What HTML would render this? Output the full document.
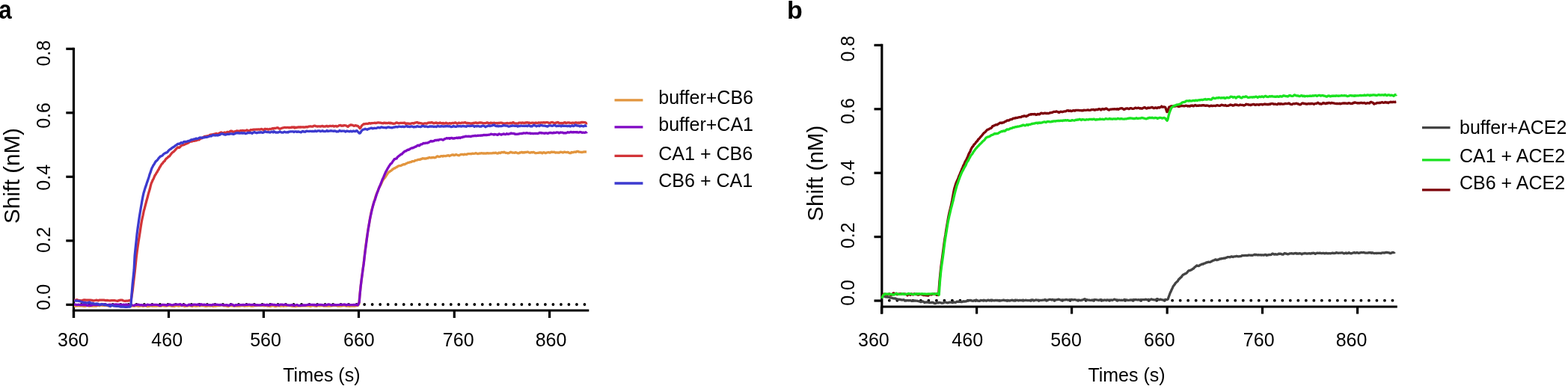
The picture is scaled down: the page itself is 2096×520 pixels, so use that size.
<!DOCTYPE html>
<html><head><meta charset="utf-8"><title>Binding kinetics</title>
<style>html,body{margin:0;padding:0;background:#fff;width:2096px;height:520px;overflow:hidden}</style>
</head><body>
<svg width="2096" height="520" viewBox="0 0 2096 520" style="display:block">
<rect width="2096" height="520" fill="#fff"/>
<line x1="98.5" y1="63.8" x2="98.5" y2="425.0" stroke="#000" stroke-width="3.2"/>
<line x1="88.3" y1="65.3" x2="98.5" y2="65.3" stroke="#000" stroke-width="3.2"/>
<line x1="88.3" y1="150.8" x2="98.5" y2="150.8" stroke="#000" stroke-width="3.2"/>
<line x1="88.3" y1="236.3" x2="98.5" y2="236.3" stroke="#000" stroke-width="3.2"/>
<line x1="88.3" y1="321.8" x2="98.5" y2="321.8" stroke="#000" stroke-width="3.2"/>
<line x1="88.3" y1="407.3" x2="98.5" y2="407.3" stroke="#000" stroke-width="3.2"/>
<line x1="96.9" y1="415.0" x2="787.3" y2="415.0" stroke="#000" stroke-width="3.2"/>
<line x1="98.5" y1="415.0" x2="98.5" y2="425.0" stroke="#000" stroke-width="3.2"/>
<line x1="225.5" y1="415.0" x2="225.5" y2="425.0" stroke="#000" stroke-width="3.2"/>
<line x1="352.4" y1="415.0" x2="352.4" y2="425.0" stroke="#000" stroke-width="3.2"/>
<line x1="479.5" y1="415.0" x2="479.5" y2="425.0" stroke="#000" stroke-width="3.2"/>
<line x1="607.3" y1="415.0" x2="607.3" y2="425.0" stroke="#000" stroke-width="3.2"/>
<line x1="734.6" y1="415.0" x2="734.6" y2="425.0" stroke="#000" stroke-width="3.2"/>
<line x1="1178.8" y1="58.8" x2="1178.8" y2="419.6" stroke="#000" stroke-width="3.2"/>
<line x1="1168.5" y1="60.4" x2="1178.8" y2="60.4" stroke="#000" stroke-width="3.2"/>
<line x1="1168.5" y1="145.8" x2="1178.8" y2="145.8" stroke="#000" stroke-width="3.2"/>
<line x1="1168.5" y1="231.2" x2="1178.8" y2="231.2" stroke="#000" stroke-width="3.2"/>
<line x1="1168.5" y1="316.6" x2="1178.8" y2="316.6" stroke="#000" stroke-width="3.2"/>
<line x1="1168.5" y1="402.0" x2="1178.8" y2="402.0" stroke="#000" stroke-width="3.2"/>
<line x1="1177.2" y1="410.0" x2="1867.8" y2="410.0" stroke="#000" stroke-width="3.2"/>
<line x1="1178.5" y1="410.0" x2="1178.5" y2="419.6" stroke="#000" stroke-width="3.2"/>
<line x1="1305.6" y1="410.0" x2="1305.6" y2="419.6" stroke="#000" stroke-width="3.2"/>
<line x1="1432.6" y1="410.0" x2="1432.6" y2="419.6" stroke="#000" stroke-width="3.2"/>
<line x1="1560.2" y1="410.0" x2="1560.2" y2="419.6" stroke="#000" stroke-width="3.2"/>
<line x1="1687.5" y1="410.0" x2="1687.5" y2="419.6" stroke="#000" stroke-width="3.2"/>
<line x1="1814.6" y1="410.0" x2="1814.6" y2="419.6" stroke="#000" stroke-width="3.2"/>
<circle cx="108.80" cy="407.0" r="1.9" fill="#000"/>
<circle cx="119.31" cy="407.0" r="1.9" fill="#000"/>
<circle cx="129.82" cy="407.0" r="1.9" fill="#000"/>
<circle cx="140.33" cy="407.0" r="1.9" fill="#000"/>
<circle cx="150.84" cy="407.0" r="1.9" fill="#000"/>
<circle cx="161.35" cy="407.0" r="1.9" fill="#000"/>
<circle cx="171.86" cy="407.0" r="1.9" fill="#000"/>
<circle cx="182.37" cy="407.0" r="1.9" fill="#000"/>
<circle cx="192.88" cy="407.0" r="1.9" fill="#000"/>
<circle cx="203.39" cy="407.0" r="1.9" fill="#000"/>
<circle cx="213.90" cy="407.0" r="1.9" fill="#000"/>
<circle cx="224.41" cy="407.0" r="1.9" fill="#000"/>
<circle cx="234.92" cy="407.0" r="1.9" fill="#000"/>
<circle cx="245.43" cy="407.0" r="1.9" fill="#000"/>
<circle cx="255.94" cy="407.0" r="1.9" fill="#000"/>
<circle cx="266.45" cy="407.0" r="1.9" fill="#000"/>
<circle cx="276.96" cy="407.0" r="1.9" fill="#000"/>
<circle cx="287.47" cy="407.0" r="1.9" fill="#000"/>
<circle cx="297.98" cy="407.0" r="1.9" fill="#000"/>
<circle cx="308.49" cy="407.0" r="1.9" fill="#000"/>
<circle cx="319.00" cy="407.0" r="1.9" fill="#000"/>
<circle cx="329.51" cy="407.0" r="1.9" fill="#000"/>
<circle cx="340.02" cy="407.0" r="1.9" fill="#000"/>
<circle cx="350.53" cy="407.0" r="1.9" fill="#000"/>
<circle cx="361.04" cy="407.0" r="1.9" fill="#000"/>
<circle cx="371.55" cy="407.0" r="1.9" fill="#000"/>
<circle cx="382.06" cy="407.0" r="1.9" fill="#000"/>
<circle cx="392.57" cy="407.0" r="1.9" fill="#000"/>
<circle cx="403.08" cy="407.0" r="1.9" fill="#000"/>
<circle cx="413.59" cy="407.0" r="1.9" fill="#000"/>
<circle cx="424.10" cy="407.0" r="1.9" fill="#000"/>
<circle cx="434.61" cy="407.0" r="1.9" fill="#000"/>
<circle cx="445.12" cy="407.0" r="1.9" fill="#000"/>
<circle cx="455.63" cy="407.0" r="1.9" fill="#000"/>
<circle cx="466.14" cy="407.0" r="1.9" fill="#000"/>
<circle cx="476.65" cy="407.0" r="1.9" fill="#000"/>
<circle cx="487.16" cy="407.0" r="1.9" fill="#000"/>
<circle cx="497.67" cy="407.0" r="1.9" fill="#000"/>
<circle cx="508.18" cy="407.0" r="1.9" fill="#000"/>
<circle cx="518.69" cy="407.0" r="1.9" fill="#000"/>
<circle cx="529.20" cy="407.0" r="1.9" fill="#000"/>
<circle cx="539.71" cy="407.0" r="1.9" fill="#000"/>
<circle cx="550.22" cy="407.0" r="1.9" fill="#000"/>
<circle cx="560.73" cy="407.0" r="1.9" fill="#000"/>
<circle cx="571.24" cy="407.0" r="1.9" fill="#000"/>
<circle cx="581.75" cy="407.0" r="1.9" fill="#000"/>
<circle cx="592.26" cy="407.0" r="1.9" fill="#000"/>
<circle cx="602.77" cy="407.0" r="1.9" fill="#000"/>
<circle cx="613.28" cy="407.0" r="1.9" fill="#000"/>
<circle cx="623.79" cy="407.0" r="1.9" fill="#000"/>
<circle cx="634.30" cy="407.0" r="1.9" fill="#000"/>
<circle cx="644.81" cy="407.0" r="1.9" fill="#000"/>
<circle cx="655.32" cy="407.0" r="1.9" fill="#000"/>
<circle cx="665.83" cy="407.0" r="1.9" fill="#000"/>
<circle cx="676.34" cy="407.0" r="1.9" fill="#000"/>
<circle cx="686.85" cy="407.0" r="1.9" fill="#000"/>
<circle cx="697.36" cy="407.0" r="1.9" fill="#000"/>
<circle cx="707.87" cy="407.0" r="1.9" fill="#000"/>
<circle cx="718.38" cy="407.0" r="1.9" fill="#000"/>
<circle cx="728.89" cy="407.0" r="1.9" fill="#000"/>
<circle cx="739.40" cy="407.0" r="1.9" fill="#000"/>
<circle cx="749.91" cy="407.0" r="1.9" fill="#000"/>
<circle cx="760.42" cy="407.0" r="1.9" fill="#000"/>
<circle cx="770.93" cy="407.0" r="1.9" fill="#000"/>
<circle cx="781.44" cy="407.0" r="1.9" fill="#000"/>
<circle cx="1188.80" cy="401.7" r="1.9" fill="#000"/>
<circle cx="1199.31" cy="401.7" r="1.9" fill="#000"/>
<circle cx="1209.82" cy="401.7" r="1.9" fill="#000"/>
<circle cx="1220.33" cy="401.7" r="1.9" fill="#000"/>
<circle cx="1230.84" cy="401.7" r="1.9" fill="#000"/>
<circle cx="1241.35" cy="401.7" r="1.9" fill="#000"/>
<circle cx="1251.86" cy="401.7" r="1.9" fill="#000"/>
<circle cx="1262.37" cy="401.7" r="1.9" fill="#000"/>
<circle cx="1272.88" cy="401.7" r="1.9" fill="#000"/>
<circle cx="1283.39" cy="401.7" r="1.9" fill="#000"/>
<circle cx="1293.90" cy="401.7" r="1.9" fill="#000"/>
<circle cx="1304.41" cy="401.7" r="1.9" fill="#000"/>
<circle cx="1314.92" cy="401.7" r="1.9" fill="#000"/>
<circle cx="1325.43" cy="401.7" r="1.9" fill="#000"/>
<circle cx="1335.94" cy="401.7" r="1.9" fill="#000"/>
<circle cx="1346.45" cy="401.7" r="1.9" fill="#000"/>
<circle cx="1356.96" cy="401.7" r="1.9" fill="#000"/>
<circle cx="1367.47" cy="401.7" r="1.9" fill="#000"/>
<circle cx="1377.98" cy="401.7" r="1.9" fill="#000"/>
<circle cx="1388.49" cy="401.7" r="1.9" fill="#000"/>
<circle cx="1399.00" cy="401.7" r="1.9" fill="#000"/>
<circle cx="1409.51" cy="401.7" r="1.9" fill="#000"/>
<circle cx="1420.02" cy="401.7" r="1.9" fill="#000"/>
<circle cx="1430.53" cy="401.7" r="1.9" fill="#000"/>
<circle cx="1441.04" cy="401.7" r="1.9" fill="#000"/>
<circle cx="1451.55" cy="401.7" r="1.9" fill="#000"/>
<circle cx="1462.06" cy="401.7" r="1.9" fill="#000"/>
<circle cx="1472.57" cy="401.7" r="1.9" fill="#000"/>
<circle cx="1483.08" cy="401.7" r="1.9" fill="#000"/>
<circle cx="1493.59" cy="401.7" r="1.9" fill="#000"/>
<circle cx="1504.10" cy="401.7" r="1.9" fill="#000"/>
<circle cx="1514.61" cy="401.7" r="1.9" fill="#000"/>
<circle cx="1525.12" cy="401.7" r="1.9" fill="#000"/>
<circle cx="1535.63" cy="401.7" r="1.9" fill="#000"/>
<circle cx="1546.14" cy="401.7" r="1.9" fill="#000"/>
<circle cx="1556.65" cy="401.7" r="1.9" fill="#000"/>
<circle cx="1567.16" cy="401.7" r="1.9" fill="#000"/>
<circle cx="1577.67" cy="401.7" r="1.9" fill="#000"/>
<circle cx="1588.18" cy="401.7" r="1.9" fill="#000"/>
<circle cx="1598.69" cy="401.7" r="1.9" fill="#000"/>
<circle cx="1609.20" cy="401.7" r="1.9" fill="#000"/>
<circle cx="1619.71" cy="401.7" r="1.9" fill="#000"/>
<circle cx="1630.22" cy="401.7" r="1.9" fill="#000"/>
<circle cx="1640.73" cy="401.7" r="1.9" fill="#000"/>
<circle cx="1651.24" cy="401.7" r="1.9" fill="#000"/>
<circle cx="1661.75" cy="401.7" r="1.9" fill="#000"/>
<circle cx="1672.26" cy="401.7" r="1.9" fill="#000"/>
<circle cx="1682.77" cy="401.7" r="1.9" fill="#000"/>
<circle cx="1693.28" cy="401.7" r="1.9" fill="#000"/>
<circle cx="1703.79" cy="401.7" r="1.9" fill="#000"/>
<circle cx="1714.30" cy="401.7" r="1.9" fill="#000"/>
<circle cx="1724.81" cy="401.7" r="1.9" fill="#000"/>
<circle cx="1735.32" cy="401.7" r="1.9" fill="#000"/>
<circle cx="1745.83" cy="401.7" r="1.9" fill="#000"/>
<circle cx="1756.34" cy="401.7" r="1.9" fill="#000"/>
<circle cx="1766.85" cy="401.7" r="1.9" fill="#000"/>
<circle cx="1777.36" cy="401.7" r="1.9" fill="#000"/>
<circle cx="1787.87" cy="401.7" r="1.9" fill="#000"/>
<circle cx="1798.38" cy="401.7" r="1.9" fill="#000"/>
<circle cx="1808.89" cy="401.7" r="1.9" fill="#000"/>
<circle cx="1819.40" cy="401.7" r="1.9" fill="#000"/>
<circle cx="1829.91" cy="401.7" r="1.9" fill="#000"/>
<circle cx="1840.42" cy="401.7" r="1.9" fill="#000"/>
<circle cx="1850.93" cy="401.7" r="1.9" fill="#000"/>
<circle cx="1861.44" cy="401.7" r="1.9" fill="#000"/>
<polyline fill="none" stroke="#E2953E" stroke-width="3.3" stroke-linejoin="round" stroke-linecap="butt" points="99.0,409.1 101.0,409.2 103.0,408.8 105.0,408.7 107.0,408.8 109.0,408.7 111.0,409.1 113.0,409.3 115.0,409.0 117.0,408.5 119.0,409.3 121.0,409.2 123.0,409.1 125.0,408.9 127.0,409.2 129.0,409.0 131.0,408.2 133.0,408.8 135.0,408.0 137.0,408.4 139.0,408.4 141.0,408.5 143.0,408.1 145.0,409.1 147.0,409.0 149.0,408.8 151.0,408.0 153.0,408.6 155.0,408.7 157.0,409.0 159.0,408.2 161.0,408.5 163.0,408.7 165.0,408.7 167.0,409.4 169.0,408.6 171.0,408.9 173.0,409.1 175.0,408.7 177.0,409.0 179.0,408.9 181.0,409.0 183.0,408.6 185.0,409.4 187.0,409.2 189.0,408.7 191.0,409.3 193.0,409.0 195.0,408.6 197.0,409.7 199.0,409.4 201.0,408.6 203.0,409.0 205.0,409.2 207.0,409.2 209.0,409.2 211.0,408.6 213.0,409.2 215.0,409.2 217.0,408.2 219.0,408.9 221.0,409.1 223.0,409.0 225.0,408.3 227.0,408.5 229.0,409.1 231.0,409.3 233.0,409.4 235.0,408.5 237.0,408.6 239.0,409.2 241.0,408.3 243.0,408.7 245.0,408.7 247.0,409.5 249.0,409.1 251.0,409.0 253.0,408.5 255.0,408.8 257.0,409.4 259.0,408.5 261.0,409.1 263.0,409.2 265.0,408.7 267.0,408.9 269.0,408.5 271.0,408.3 273.0,408.8 275.0,409.3 277.0,409.1 279.0,408.7 281.0,409.0 283.0,408.7 285.0,409.4 287.0,408.9 289.0,409.0 291.0,408.6 293.0,408.7 295.0,408.1 297.0,407.7 299.0,408.9 301.0,408.6 303.0,409.1 305.0,409.7 307.0,408.6 309.0,408.6 311.0,408.8 313.0,409.0 315.0,408.8 317.0,409.0 319.0,409.2 321.0,409.0 323.0,408.4 325.0,408.7 327.0,409.1 329.0,408.6 331.0,408.9 333.0,408.5 335.0,409.0 337.0,409.0 339.0,409.0 341.0,408.6 343.0,408.7 345.0,408.1 347.0,408.4 349.0,408.6 351.0,408.1 353.0,408.9 355.0,408.5 357.0,409.0 359.0,408.8 361.0,409.5 363.0,408.9 365.0,408.3 367.0,409.4 369.0,409.5 371.0,408.8 373.0,408.9 375.0,409.2 377.0,408.6 379.0,409.3 381.0,408.6 383.0,409.0 385.0,408.5 387.0,408.5 389.0,408.8 391.0,409.3 393.0,409.2 395.0,409.6 397.0,409.1 399.0,408.8 401.0,409.2 403.0,408.8 405.0,408.9 407.0,408.6 409.0,408.8 411.0,408.7 413.0,408.9 415.0,409.4 417.0,408.6 419.0,408.5 421.0,409.2 423.0,409.4 425.0,408.5 427.0,408.9 429.0,408.6 431.0,408.3 433.0,409.2 435.0,409.0 437.0,409.1 439.0,409.0 441.0,409.2 443.0,408.8 445.0,408.6 447.0,408.6 449.0,408.2 451.0,409.1 453.0,409.0 455.0,409.2 457.0,408.9 459.0,408.5 461.0,408.7 463.0,409.0 465.0,408.9 467.0,409.3 469.0,409.0 471.0,409.2 473.0,409.0 475.0,409.0 477.0,408.6 478.5,408.1 479.8,406.7 480.8,395.5 481.8,385.8 482.8,377.4 483.8,369.3 484.8,362.1 485.8,354.7 486.8,346.8 487.8,337.8 488.8,329.5 489.8,322.0 490.8,315.3 491.8,308.6 492.8,302.5 493.8,297.1 494.8,291.2 495.8,285.6 496.8,280.7 497.8,277.5 498.8,274.0 499.8,270.5 500.8,267.5 501.8,263.7 502.8,260.9 503.8,258.0 504.8,256.0 505.8,253.4 506.8,250.6 507.8,248.7 508.8,247.4 509.8,245.2 510.8,243.0 511.8,241.0 512.8,239.6 513.8,238.2 514.8,237.3 515.8,235.5 516.8,234.0 517.8,232.6 518.8,231.0 519.8,230.0 520.8,229.5 521.8,228.6 522.8,228.2 523.8,227.5 524.8,226.1 525.8,225.9 526.8,225.0 527.8,224.9 528.8,224.2 529.8,223.5 530.8,223.1 531.8,222.3 532.8,221.9 533.8,221.7 534.8,221.7 535.8,221.3 536.8,221.0 537.8,220.4 538.8,220.0 539.8,219.6 540.8,219.8 541.8,219.3 542.8,218.7 543.8,218.2 544.8,217.8 545.8,217.3 546.8,217.3 547.8,216.9 548.8,216.7 549.8,216.7 550.8,215.7 551.8,215.5 552.8,215.7 553.8,215.5 554.8,214.6 555.8,214.3 556.8,214.2 557.8,214.0 558.8,213.4 559.8,213.4 560.8,213.2 561.8,213.3 562.8,212.5 563.8,212.5 564.8,211.7 565.8,211.9 566.8,212.0 567.8,212.0 568.8,211.9 569.8,212.0 570.8,211.3 571.8,211.5 572.8,210.9 573.8,210.4 574.8,210.8 575.8,211.0 576.8,210.7 577.8,210.8 578.8,210.4 579.8,210.5 580.8,210.8 581.8,210.7 582.8,210.2 583.8,209.2 584.8,208.8 585.8,209.2 586.8,209.6 587.8,209.4 588.8,209.1 589.8,208.6 590.8,208.6 591.8,209.1 592.8,208.3 593.8,208.5 594.8,208.6 595.8,208.7 596.8,208.2 597.8,208.1 598.8,207.7 599.8,207.9 600.8,208.5 601.8,208.0 602.8,207.7 603.8,207.1 604.8,206.9 605.8,206.9 606.8,207.7 607.8,207.4 608.8,206.9 609.8,206.6 610.8,207.0 611.8,207.3 612.8,207.6 613.8,207.8 614.8,207.0 615.8,206.7 616.8,206.4 617.8,206.4 618.8,206.5 619.8,206.8 620.8,206.1 621.8,206.4 622.8,206.3 623.8,206.5 624.8,205.9 625.8,205.7 626.8,205.7 627.8,205.6 628.8,205.7 629.8,205.8 630.8,205.3 631.8,205.2 632.8,205.3 633.8,205.3 634.8,205.2 635.8,204.7 636.8,204.8 637.8,205.4 638.8,205.6 639.8,205.3 640.8,205.0 641.8,205.1 642.8,204.8 643.8,204.7 644.8,204.8 645.8,205.2 646.8,204.8 647.8,205.2 648.8,205.0 649.8,205.1 650.8,204.7 651.8,204.7 652.8,205.0 653.8,204.9 654.8,204.8 655.8,204.9 656.8,204.8 657.8,204.8 658.8,204.5 659.8,204.4 660.8,204.7 661.8,204.4 662.8,204.2 663.8,204.8 664.8,205.0 665.8,205.0 666.8,204.1 667.8,204.2 668.8,204.6 669.8,204.0 670.8,203.5 671.8,203.6 672.8,203.8 673.8,203.2 674.8,203.8 675.8,204.3 676.8,204.3 677.8,204.3 678.8,204.9 679.8,204.7 680.8,204.2 681.8,203.7 682.8,203.2 683.8,203.6 684.8,204.2 685.8,204.0 686.8,204.2 687.8,204.3 688.8,203.7 689.8,204.0 690.8,204.1 691.8,204.7 692.8,204.9 693.8,204.6 694.8,203.9 695.8,204.0 696.8,203.5 697.8,203.4 698.8,204.1 699.8,203.7 700.8,204.0 701.8,203.4 702.8,203.7 703.8,203.5 704.8,203.1 705.8,203.1 706.8,203.7 707.8,204.1 708.8,204.2 709.8,203.7 710.8,203.5 711.8,203.9 712.8,203.3 713.8,203.6 714.8,204.2 715.8,204.7 716.8,204.7 717.8,204.5 718.8,204.3 719.8,204.4 720.8,203.8 721.8,204.1 722.8,203.9 723.8,204.2 724.8,204.8 725.8,204.1 726.8,203.7 727.8,204.0 728.8,204.5 729.8,204.5 730.8,204.0 731.8,203.8 732.8,203.7 733.8,203.7 734.8,204.2 735.8,203.9 736.8,203.2 737.8,203.2 738.8,203.5 739.8,203.3 740.8,203.2 741.8,203.7 742.8,204.2 743.8,203.9 744.8,203.9 745.8,204.1 746.8,204.0 747.8,204.2 748.8,203.2 749.8,203.4 750.8,203.3 751.8,203.8 752.8,204.0 753.8,203.2 754.8,203.1 755.8,203.5 756.8,203.7 757.8,203.7 758.8,203.4 759.8,203.6 760.8,204.3 761.8,204.6 762.8,204.7 763.8,203.4 764.8,203.9 765.8,203.6 766.8,203.6 767.8,203.1 768.8,203.1 769.8,203.3 770.8,202.6 771.8,202.3 772.8,202.3 773.8,203.1 774.8,203.2 775.8,203.3 776.8,203.3 777.8,203.6 778.8,203.3 779.8,203.1 780.8,203.0 781.8,203.0 782.8,202.8 783.8,203.2 784.0,203.2"/>
<polyline fill="none" stroke="#8008C4" stroke-width="3.3" stroke-linejoin="round" stroke-linecap="butt" points="99.0,407.0 101.0,407.1 103.0,407.6 105.0,407.2 107.0,407.6 109.0,407.3 111.0,407.7 113.0,407.5 115.0,407.6 117.0,408.4 119.0,407.9 121.0,408.4 123.0,407.8 125.0,407.2 127.0,407.5 129.0,407.4 131.0,407.6 133.0,407.4 135.0,407.3 137.0,406.5 139.0,407.1 141.0,406.7 143.0,407.8 145.0,407.5 147.0,407.2 149.0,407.4 151.0,407.4 153.0,407.1 155.0,406.8 157.0,407.2 159.0,407.1 161.0,407.2 163.0,407.8 165.0,407.1 167.0,407.4 169.0,406.9 171.0,407.9 173.0,407.5 175.0,407.3 177.0,408.0 179.0,408.5 181.0,407.6 183.0,407.5 185.0,407.2 187.0,407.8 189.0,407.7 191.0,408.1 193.0,407.9 195.0,408.4 197.0,407.2 199.0,407.6 201.0,407.6 203.0,407.5 205.0,407.4 207.0,407.4 209.0,407.3 211.0,407.6 213.0,408.3 215.0,408.3 217.0,407.3 219.0,407.3 221.0,407.6 223.0,408.1 225.0,407.4 227.0,406.9 229.0,407.8 231.0,407.8 233.0,407.2 235.0,407.2 237.0,407.2 239.0,407.1 241.0,406.6 243.0,408.1 245.0,407.3 247.0,407.5 249.0,408.3 251.0,408.1 253.0,407.1 255.0,408.0 257.0,407.9 259.0,407.1 261.0,407.2 263.0,407.6 265.0,406.9 267.0,408.0 269.0,406.7 271.0,407.6 273.0,407.2 275.0,407.7 277.0,407.6 279.0,407.6 281.0,407.6 283.0,408.0 285.0,407.0 287.0,407.5 289.0,407.1 291.0,407.4 293.0,407.7 295.0,407.3 297.0,407.6 299.0,407.9 301.0,407.8 303.0,407.6 305.0,408.3 307.0,408.0 309.0,406.8 311.0,407.4 313.0,408.7 315.0,407.7 317.0,407.9 319.0,407.6 321.0,407.7 323.0,407.6 325.0,407.3 327.0,407.7 329.0,407.4 331.0,407.4 333.0,407.0 335.0,407.5 337.0,407.6 339.0,407.2 341.0,408.0 343.0,407.6 345.0,407.8 347.0,407.9 349.0,407.6 351.0,407.7 353.0,407.2 355.0,408.1 357.0,407.2 359.0,408.2 361.0,407.7 363.0,406.8 365.0,407.3 367.0,407.4 369.0,408.0 371.0,407.5 373.0,408.1 375.0,407.1 377.0,407.1 379.0,407.7 381.0,407.0 383.0,407.6 385.0,407.8 387.0,408.1 389.0,407.8 391.0,407.6 393.0,408.6 395.0,408.0 397.0,407.5 399.0,408.4 401.0,408.4 403.0,408.2 405.0,407.9 407.0,408.0 409.0,408.0 411.0,407.5 413.0,407.2 415.0,407.4 417.0,407.4 419.0,407.5 421.0,407.5 423.0,408.2 425.0,407.4 427.0,407.3 429.0,407.4 431.0,407.6 433.0,408.1 435.0,407.6 437.0,407.8 439.0,406.8 441.0,407.2 443.0,408.0 445.0,407.7 447.0,407.3 449.0,407.9 451.0,407.6 453.0,407.6 455.0,407.2 457.0,407.6 459.0,407.1 461.0,407.0 463.0,408.0 465.0,407.1 467.0,407.6 469.0,407.6 471.0,407.7 473.0,407.5 475.0,407.3 477.0,407.6 478.5,407.8 480.2,404.1 481.2,392.4 482.2,382.4 483.2,374.2 484.2,367.0 485.2,359.3 486.2,352.5 487.2,343.5 488.2,335.4 489.2,328.0 490.2,320.5 491.2,313.1 492.2,306.4 493.2,300.6 494.2,294.6 495.2,289.3 496.2,284.8 497.2,280.5 498.2,276.3 499.2,272.7 500.2,269.2 501.2,267.1 502.2,263.7 503.2,260.4 504.2,257.7 505.2,255.1 506.2,252.3 507.2,250.0 508.2,247.6 509.2,245.1 510.2,242.5 511.2,239.9 512.2,238.1 513.2,235.5 514.2,233.2 515.2,230.8 516.2,228.8 517.2,227.2 518.2,225.1 519.2,223.6 520.2,221.9 521.2,220.5 522.2,219.0 523.2,218.5 524.2,217.2 525.2,215.5 526.2,214.3 527.2,212.7 528.2,212.6 529.2,212.1 530.2,211.9 531.2,210.0 532.2,209.3 533.2,208.4 534.2,207.8 535.2,206.9 536.2,206.2 537.2,206.1 538.2,204.7 539.2,203.9 540.2,203.0 541.2,202.1 542.2,202.0 543.2,201.6 544.2,200.7 545.2,200.1 546.2,200.3 547.2,199.8 548.2,198.9 549.2,198.4 550.2,197.8 551.2,198.0 552.2,197.6 553.2,197.0 554.2,196.8 555.2,196.0 556.2,196.0 557.2,195.2 558.2,194.3 559.2,194.1 560.2,194.8 561.2,194.3 562.2,193.1 563.2,192.9 564.2,192.8 565.2,192.0 566.2,191.4 567.2,191.6 568.2,191.5 569.2,191.2 570.2,191.2 571.2,191.0 572.2,190.9 573.2,190.2 574.2,189.7 575.2,189.0 576.2,188.5 577.2,189.0 578.2,188.9 579.2,188.6 580.2,188.3 581.2,187.6 582.2,187.4 583.2,187.6 584.2,187.2 585.2,187.1 586.2,187.5 587.2,186.7 588.2,186.5 589.2,186.3 590.2,186.4 591.2,186.8 592.2,187.1 593.2,186.7 594.2,185.6 595.2,185.7 596.2,185.0 597.2,184.7 598.2,185.0 599.2,184.9 600.2,184.7 601.2,185.4 602.2,184.6 603.2,184.5 604.2,184.5 605.2,185.1 606.2,184.9 607.2,185.1 608.2,184.6 609.2,184.7 610.2,184.1 611.2,184.2 612.2,184.7 613.2,183.9 614.2,183.9 615.2,184.5 616.2,183.8 617.2,183.5 618.2,183.6 619.2,182.8 620.2,183.0 621.2,182.7 622.2,182.2 623.2,182.2 624.2,182.4 625.2,182.4 626.2,182.1 627.2,182.3 628.2,182.2 629.2,182.6 630.2,182.2 631.2,181.8 632.2,181.9 633.2,181.6 634.2,181.7 635.2,181.2 636.2,181.6 637.2,181.7 638.2,181.1 639.2,181.3 640.2,181.1 641.2,181.2 642.2,181.3 643.2,180.9 644.2,181.1 645.2,180.9 646.2,180.4 647.2,180.6 648.2,180.4 649.2,180.6 650.2,180.5 651.2,180.5 652.2,180.3 653.2,180.1 654.2,180.1 655.2,179.7 656.2,179.2 657.2,179.4 658.2,179.6 659.2,179.6 660.2,180.2 661.2,179.4 662.2,179.6 663.2,179.8 664.2,179.9 665.2,180.4 666.2,179.6 667.2,179.0 668.2,179.3 669.2,179.7 670.2,180.2 671.2,179.5 672.2,179.4 673.2,178.9 674.2,179.3 675.2,179.7 676.2,179.6 677.2,178.6 678.2,179.0 679.2,179.3 680.2,179.0 681.2,178.9 682.2,178.6 683.2,178.0 684.2,178.3 685.2,178.4 686.2,178.6 687.2,178.5 688.2,179.3 689.2,179.2 690.2,179.3 691.2,179.4 692.2,179.2 693.2,179.2 694.2,178.7 695.2,178.7 696.2,178.6 697.2,178.4 698.2,178.5 699.2,178.1 700.2,177.8 701.2,178.0 702.2,178.2 703.2,177.8 704.2,177.7 705.2,178.0 706.2,178.2 707.2,178.2 708.2,178.0 709.2,178.6 710.2,178.4 711.2,178.4 712.2,178.5 713.2,178.7 714.2,178.3 715.2,178.5 716.2,178.4 717.2,178.3 718.2,178.7 719.2,178.3 720.2,178.1 721.2,177.4 722.2,177.8 723.2,177.4 724.2,178.0 725.2,177.8 726.2,178.0 727.2,178.1 728.2,178.3 729.2,177.8 730.2,177.9 731.2,177.9 732.2,178.4 733.2,178.1 734.2,177.6 735.2,177.4 736.2,177.5 737.2,177.6 738.2,177.9 739.2,177.8 740.2,177.2 741.2,177.7 742.2,177.4 743.2,177.4 744.2,176.8 745.2,177.0 746.2,177.2 747.2,177.9 748.2,177.4 749.2,177.0 750.2,177.1 751.2,177.2 752.2,177.1 753.2,177.8 754.2,177.9 755.2,177.7 756.2,177.9 757.2,177.7 758.2,177.0 759.2,176.7 760.2,177.2 761.2,177.2 762.2,176.6 763.2,176.3 764.2,176.8 765.2,176.8 766.2,176.5 767.2,176.9 768.2,176.7 769.2,176.6 770.2,176.8 771.2,176.5 772.2,176.9 773.2,177.1 774.2,176.9 775.2,176.5 776.2,176.6 777.2,176.8 778.2,177.4 779.2,177.2 780.2,177.1 781.2,177.3 782.2,177.2 783.2,176.9 784.2,176.7 784.6,176.2"/>
<polyline fill="none" stroke="#D23438" stroke-width="3.3" stroke-linejoin="round" stroke-linecap="butt" points="99.0,401.1 101.0,401.3 103.0,400.7 105.0,401.6 107.0,401.7 109.0,402.1 111.0,401.2 113.0,400.8 115.0,401.1 117.0,401.1 119.0,401.2 121.0,401.2 123.0,401.3 125.0,402.0 127.0,401.5 129.0,401.1 131.0,401.8 133.0,401.2 135.0,401.2 137.0,401.2 139.0,401.2 141.0,401.6 143.0,401.4 145.0,401.7 147.0,401.9 149.0,401.6 151.0,401.7 153.0,401.6 155.0,402.0 157.0,402.4 159.0,401.6 161.0,401.1 163.0,401.1 165.0,402.0 167.0,402.4 169.0,402.2 171.0,402.1 173.0,401.7 173.7,401.8 175.2,400.6 176.2,395.1 177.2,388.5 178.2,379.8 179.2,371.6 180.2,363.2 181.2,353.8 182.2,344.0 183.2,336.0 184.2,329.1 185.2,322.3 186.2,316.3 187.2,309.7 188.2,302.9 189.2,296.7 190.2,291.7 191.2,287.3 192.2,282.1 193.2,278.7 194.2,274.8 195.2,271.0 196.2,267.3 197.2,263.8 198.2,259.6 199.2,256.2 200.2,253.1 201.2,248.9 202.2,245.1 203.2,243.0 204.2,240.7 205.2,239.0 206.2,236.5 207.2,234.3 208.2,233.0 209.2,231.1 210.2,229.8 211.2,227.6 212.2,226.4 213.2,224.0 214.2,222.7 215.2,220.8 216.2,219.3 217.2,218.4 218.2,217.1 219.2,215.8 220.2,215.1 221.2,213.3 222.2,212.1 223.2,211.3 224.2,210.6 225.2,209.3 226.2,209.1 227.2,207.9 228.2,206.5 229.2,205.2 230.2,204.0 231.2,203.3 232.2,202.8 233.2,201.6 234.2,200.6 235.2,199.4 236.2,198.4 237.2,197.3 238.2,196.9 239.2,197.4 240.2,196.9 241.2,195.8 242.2,194.8 243.2,194.1 244.2,193.9 245.2,193.8 246.2,193.4 247.2,192.8 248.2,192.5 249.2,191.9 250.2,191.6 251.2,191.2 252.2,190.4 253.2,189.9 254.2,189.3 255.2,189.2 256.2,189.2 257.2,188.8 258.2,188.3 259.2,188.3 260.2,188.3 261.2,187.9 262.2,187.9 263.2,187.5 264.2,186.9 265.2,186.7 266.2,186.8 267.2,185.7 268.2,185.2 269.2,185.0 270.2,184.6 271.2,183.5 272.2,183.3 273.2,182.4 274.2,182.3 275.2,182.2 276.2,182.1 277.2,181.7 278.2,181.8 279.2,181.7 280.2,180.7 281.2,180.1 282.2,180.1 283.2,179.8 284.2,179.9 285.2,179.4 286.2,179.5 287.2,179.0 288.2,179.1 289.2,178.5 290.2,179.1 291.2,179.2 292.2,178.5 293.2,178.0 294.2,177.7 295.2,177.0 296.2,177.1 297.2,177.7 298.2,177.6 299.2,177.5 300.2,177.0 301.2,177.3 302.2,177.5 303.2,176.7 304.2,176.4 305.2,176.7 306.2,176.8 307.2,175.8 308.2,175.1 309.2,175.1 310.2,175.4 311.2,176.2 312.2,176.6 313.2,176.0 314.2,175.7 315.2,175.6 316.2,175.0 317.2,175.1 318.2,175.0 319.2,175.8 320.2,175.4 321.2,174.7 322.2,174.6 323.2,174.8 324.2,174.4 325.2,174.6 326.2,174.7 327.2,174.9 328.2,174.6 329.2,174.2 330.2,173.8 331.2,174.5 332.2,175.1 333.2,174.8 334.2,174.5 335.2,173.5 336.2,173.7 337.2,173.5 338.2,173.5 339.2,173.2 340.2,173.1 341.2,173.2 342.2,173.1 343.2,173.0 344.2,173.2 345.2,172.8 346.2,173.0 347.2,173.1 348.2,172.9 349.2,172.4 350.2,172.6 351.2,173.2 352.2,173.6 353.2,173.0 354.2,172.2 355.2,172.7 356.2,172.6 357.2,172.5 358.2,173.1 359.2,173.0 360.2,172.5 361.2,172.6 362.2,172.3 363.2,172.2 364.2,171.5 365.2,172.2 366.2,171.3 367.2,171.6 368.2,171.3 369.2,171.1 370.2,170.8 371.2,170.7 372.2,171.2 373.2,172.1 374.2,172.1 375.2,172.0 376.2,171.3 377.2,171.2 378.2,170.9 379.2,170.7 380.2,170.4 381.2,170.3 382.2,170.6 383.2,170.5 384.2,170.3 385.2,170.4 386.2,170.8 387.2,170.5 388.2,170.5 389.2,170.7 390.2,169.9 391.2,170.1 392.2,170.3 393.2,169.9 394.2,171.1 395.2,170.2 396.2,170.7 397.2,170.2 398.2,170.0 399.2,169.9 400.2,170.1 401.2,169.7 402.2,170.1 403.2,169.9 404.2,169.9 405.2,170.0 406.2,169.9 407.2,170.1 408.2,169.9 409.2,169.5 410.2,169.9 411.2,169.8 412.2,169.1 413.2,169.1 414.2,168.9 415.2,168.9 416.2,169.2 417.2,169.1 418.2,169.2 419.2,168.3 420.2,168.2 421.2,168.2 422.2,168.7 423.2,168.8 424.2,169.2 425.2,168.9 426.2,168.9 427.2,168.9 428.2,169.1 429.2,168.8 430.2,168.5 431.2,168.5 432.2,169.0 433.2,169.0 434.2,169.2 435.2,168.9 436.2,168.4 437.2,168.5 438.2,169.1 439.2,168.9 440.2,168.5 441.2,168.5 442.2,168.3 443.2,168.7 444.2,168.5 445.2,168.2 446.2,169.1 447.2,168.7 448.2,168.6 449.2,168.5 450.2,169.1 451.2,168.8 452.2,168.5 453.2,167.7 454.2,167.6 455.2,167.4 456.2,168.2 457.2,168.3 458.2,167.9 459.2,168.0 460.2,167.5 461.2,167.7 462.2,167.8 463.2,168.2 464.2,169.0 465.2,169.3 466.2,168.2 467.2,167.9 468.2,167.1 469.2,166.8 470.2,167.1 471.2,167.4 472.2,167.8 473.2,168.4 474.2,168.0 475.2,167.6 476.2,168.1 477.2,168.1 478.2,168.3 479.2,169.2 480.2,170.5 481.2,171.6 482.2,170.6 483.2,168.6 484.2,167.3 485.2,166.7 486.2,165.7 487.2,165.8 488.2,165.6 489.2,165.4 490.2,165.4 491.2,165.5 492.2,165.3 493.2,164.7 494.2,164.7 495.2,165.2 496.2,164.7 497.2,164.5 498.2,164.7 499.2,164.5 500.2,164.3 501.2,164.2 502.2,164.6 503.2,164.4 504.2,164.2 505.2,163.8 506.2,163.9 507.2,164.2 508.2,164.1 509.2,164.2 510.2,164.7 511.2,164.6 512.2,164.8 513.2,164.2 514.2,164.2 515.2,164.6 516.2,164.3 517.2,164.7 518.2,164.6 519.2,164.2 520.2,164.2 521.2,164.8 522.2,164.1 523.2,164.7 524.2,165.0 525.2,165.0 526.2,165.3 527.2,165.1 528.2,165.1 529.2,164.1 530.2,164.0 531.2,164.1 532.2,164.7 533.2,164.8 534.2,164.7 535.2,164.3 536.2,164.4 537.2,164.4 538.2,164.3 539.2,164.3 540.2,164.1 541.2,164.2 542.2,165.4 543.2,165.3 544.2,164.9 545.2,165.2 546.2,165.0 547.2,165.4 548.2,165.4 549.2,165.2 550.2,164.8 551.2,164.6 552.2,164.7 553.2,165.1 554.2,164.1 555.2,164.1 556.2,163.8 557.2,163.5 558.2,163.6 559.2,164.6 560.2,164.2 561.2,164.6 562.2,164.7 563.2,164.9 564.2,165.1 565.2,165.4 566.2,165.4 567.2,164.8 568.2,164.8 569.2,164.9 570.2,165.1 571.2,164.9 572.2,164.2 573.2,164.0 574.2,164.1 575.2,164.0 576.2,164.0 577.2,163.7 578.2,164.0 579.2,164.6 580.2,164.8 581.2,164.3 582.2,164.3 583.2,163.9 584.2,164.8 585.2,164.5 586.2,164.6 587.2,164.6 588.2,164.0 589.2,164.5 590.2,164.6 591.2,165.0 592.2,164.4 593.2,165.2 594.2,164.8 595.2,164.8 596.2,164.1 597.2,164.8 598.2,164.9 599.2,165.1 600.2,164.9 601.2,164.6 602.2,165.0 603.2,165.0 604.2,164.5 605.2,164.3 606.2,164.7 607.2,164.5 608.2,163.9 609.2,163.9 610.2,164.8 611.2,165.1 612.2,164.7 613.2,164.1 614.2,164.4 615.2,164.7 616.2,164.7 617.2,164.0 618.2,164.2 619.2,164.1 620.2,164.1 621.2,163.7 622.2,163.7 623.2,164.6 624.2,164.8 625.2,164.3 626.2,164.5 627.2,164.7 628.2,164.9 629.2,165.2 630.2,164.8 631.2,165.3 632.2,164.5 633.2,164.5 634.2,164.6 635.2,164.1 636.2,163.9 637.2,164.5 638.2,164.5 639.2,164.3 640.2,164.1 641.2,164.0 642.2,163.9 643.2,164.0 644.2,164.2 645.2,164.5 646.2,164.8 647.2,164.7 648.2,164.6 649.2,164.6 650.2,164.2 651.2,163.9 652.2,164.1 653.2,164.8 654.2,164.7 655.2,164.6 656.2,164.1 657.2,164.3 658.2,164.5 659.2,164.6 660.2,164.2 661.2,164.3 662.2,164.7 663.2,164.5 664.2,164.6 665.2,164.8 666.2,164.3 667.2,164.7 668.2,164.2 669.2,164.1 670.2,164.1 671.2,164.4 672.2,165.1 673.2,165.0 674.2,165.1 675.2,164.9 676.2,164.8 677.2,164.6 678.2,164.5 679.2,164.9 680.2,164.9 681.2,164.8 682.2,164.3 683.2,164.8 684.2,164.4 685.2,163.9 686.2,163.6 687.2,164.3 688.2,164.9 689.2,165.0 690.2,164.8 691.2,165.0 692.2,165.2 693.2,164.4 694.2,164.1 695.2,164.1 696.2,164.2 697.2,164.5 698.2,164.0 699.2,164.1 700.2,164.4 701.2,164.5 702.2,163.9 703.2,164.1 704.2,163.7 705.2,163.9 706.2,164.3 707.2,164.0 708.2,164.5 709.2,164.5 710.2,164.3 711.2,164.1 712.2,164.1 713.2,164.3 714.2,164.3 715.2,164.3 716.2,164.0 717.2,164.4 718.2,164.4 719.2,164.3 720.2,163.9 721.2,164.2 722.2,164.3 723.2,163.8 724.2,163.9 725.2,164.0 726.2,163.9 727.2,163.6 728.2,164.2 729.2,163.9 730.2,163.7 731.2,163.7 732.2,163.7 733.2,164.1 734.2,164.4 735.2,164.4 736.2,163.9 737.2,163.5 738.2,163.3 739.2,163.9 740.2,164.1 741.2,164.8 742.2,164.5 743.2,164.0 744.2,164.0 745.2,163.5 746.2,163.6 747.2,164.4 748.2,164.8 749.2,164.6 750.2,164.4 751.2,164.9 752.2,164.4 753.2,164.5 754.2,163.8 755.2,163.6 756.2,164.5 757.2,164.5 758.2,164.2 759.2,163.8 760.2,164.0 761.2,164.0 762.2,164.3 763.2,164.3 764.2,164.5 765.2,164.2 766.2,164.2 767.2,164.5 768.2,164.3 769.2,163.9 770.2,163.8 771.2,164.3 772.2,164.2 773.2,164.0 774.2,164.5 775.2,164.0 776.2,164.1 777.2,163.4 778.2,163.8 779.2,163.4 780.2,163.7 781.2,163.7 782.2,163.7 783.2,164.3 784.2,164.8 785.0,164.5"/>
<polyline fill="none" stroke="#3C3ACF" stroke-width="3.3" stroke-linejoin="round" stroke-linecap="butt" points="99.5,401.5 101.5,402.2 103.5,402.2 105.5,402.3 107.5,403.0 109.5,403.5 111.5,404.4 113.5,404.3 115.5,404.8 117.5,404.8 119.5,404.0 121.5,405.3 123.5,405.2 125.5,405.9 127.5,406.2 129.5,406.0 131.5,406.3 133.5,407.7 135.5,406.5 137.5,406.9 139.5,407.6 141.5,407.3 143.5,407.8 145.5,408.5 147.5,409.5 149.5,407.9 151.5,408.8 153.5,409.2 155.5,409.3 157.5,409.2 159.5,409.6 161.5,410.1 163.5,409.8 165.5,410.1 167.5,410.3 169.5,410.3 171.5,410.2 173.5,410.2 174.3,410.0 175.1,406.2 176.1,392.5 177.1,380.3 178.1,371.0 179.1,361.0 180.1,342.0 181.1,332.0 182.1,322.8 183.1,312.8 184.1,305.2 185.1,298.2 186.1,291.2 187.1,284.9 188.1,278.9 189.1,273.3 190.1,267.4 191.1,262.1 192.1,257.7 193.1,254.5 194.1,251.1 195.1,248.4 196.1,245.3 197.1,242.4 198.1,239.5 199.1,236.4 200.1,232.9 201.1,230.4 202.1,227.2 203.1,224.5 204.1,222.7 205.1,220.8 206.1,219.5 207.1,217.6 208.1,215.9 209.1,215.1 210.1,214.2 211.1,212.9 212.1,211.5 213.1,210.6 214.1,209.3 215.1,208.8 216.1,208.5 217.1,207.8 218.1,206.7 219.1,205.7 220.1,205.1 221.1,204.5 222.1,204.1 223.1,203.8 224.1,202.9 225.1,201.6 226.1,200.5 227.1,199.8 228.1,199.3 229.1,198.3 230.1,197.6 231.1,197.0 232.1,196.5 233.1,195.8 234.1,194.8 235.1,194.2 236.1,193.7 237.1,192.8 238.1,192.3 239.1,192.2 240.1,192.3 241.1,191.3 242.1,190.7 243.1,191.0 244.1,191.4 245.1,189.9 246.1,189.4 247.1,189.8 248.1,189.4 249.1,189.4 250.1,189.2 251.1,188.6 252.1,188.4 253.1,188.6 254.1,187.9 255.1,187.1 256.1,186.7 257.1,186.9 258.1,186.5 259.1,186.0 260.1,185.8 261.1,185.8 262.1,185.0 263.1,185.3 264.1,185.3 265.1,185.0 266.1,184.5 267.1,184.0 268.1,184.1 269.1,184.0 270.1,184.4 271.1,183.9 272.1,183.8 273.1,183.8 274.1,183.1 275.1,183.5 276.1,183.3 277.1,183.1 278.1,182.9 279.1,182.3 280.1,182.2 281.1,181.7 282.1,182.0 283.1,181.6 284.1,180.6 285.1,180.5 286.1,180.9 287.1,180.9 288.1,181.0 289.1,180.6 290.1,180.7 291.1,181.0 292.1,180.5 293.1,180.3 294.1,180.1 295.1,179.1 296.1,178.8 297.1,178.9 298.1,179.0 299.1,179.7 300.1,179.7 301.1,180.2 302.1,179.9 303.1,179.5 304.1,179.2 305.1,179.4 306.1,179.4 307.1,178.9 308.1,178.8 309.1,178.9 310.1,178.8 311.1,179.2 312.1,179.4 313.1,179.0 314.1,178.7 315.1,177.9 316.1,177.8 317.1,177.7 318.1,178.0 319.1,177.7 320.1,178.2 321.1,178.2 322.1,177.6 323.1,178.1 324.1,177.7 325.1,178.1 326.1,177.7 327.1,178.0 328.1,178.7 329.1,178.3 330.1,178.2 331.1,177.3 332.1,177.5 333.1,177.5 334.1,177.5 335.1,177.4 336.1,177.8 337.1,178.4 338.1,177.4 339.1,177.0 340.1,176.5 341.1,177.1 342.1,177.4 343.1,177.8 344.1,177.4 345.1,177.1 346.1,177.0 347.1,176.9 348.1,177.0 349.1,176.6 350.1,177.2 351.1,177.4 352.1,176.9 353.1,176.6 354.1,175.7 355.1,176.2 356.1,176.5 357.1,176.7 358.1,176.6 359.1,176.7 360.1,176.9 361.1,177.0 362.1,176.6 363.1,176.1 364.1,176.1 365.1,176.9 366.1,175.7 367.1,176.1 368.1,176.8 369.1,177.1 370.1,176.9 371.1,177.1 372.1,176.9 373.1,176.5 374.1,175.8 375.1,176.5 376.1,176.9 377.1,177.1 378.1,177.2 379.1,176.7 380.1,176.2 381.1,176.5 382.1,176.8 383.1,176.8 384.1,176.7 385.1,177.0 386.1,176.1 387.1,176.1 388.1,175.8 389.1,175.9 390.1,175.9 391.1,175.9 392.1,175.9 393.1,176.5 394.1,175.8 395.1,175.8 396.1,175.9 397.1,176.4 398.1,176.0 399.1,176.0 400.1,176.3 401.1,176.3 402.1,176.9 403.1,176.4 404.1,175.7 405.1,175.4 406.1,176.2 407.1,176.2 408.1,176.3 409.1,175.4 410.1,175.2 411.1,175.3 412.1,175.5 413.1,175.7 414.1,175.3 415.1,175.3 416.1,175.5 417.1,175.6 418.1,175.3 419.1,175.7 420.1,175.6 421.1,174.9 422.1,175.2 423.1,175.7 424.1,175.3 425.1,174.9 426.1,174.8 427.1,174.9 428.1,175.5 429.1,175.5 430.1,175.2 431.1,174.7 432.1,175.4 433.1,175.6 434.1,175.7 435.1,175.7 436.1,175.1 437.1,174.5 438.1,175.5 439.1,175.3 440.1,175.0 441.1,175.2 442.1,174.7 443.1,175.0 444.1,175.1 445.1,175.1 446.1,175.4 447.1,175.0 448.1,175.1 449.1,175.5 450.1,176.0 451.1,175.8 452.1,175.9 453.1,175.1 454.1,174.5 455.1,175.1 456.1,175.4 457.1,175.1 458.1,175.1 459.1,175.2 460.1,175.0 461.1,175.7 462.1,176.1 463.1,175.2 464.1,175.1 465.1,175.3 466.1,175.7 467.1,175.9 468.1,175.4 469.1,175.2 470.1,175.8 471.1,175.8 472.1,175.0 473.1,175.4 474.1,175.5 475.1,175.6 476.1,174.9 477.1,174.7 478.1,175.8 479.1,176.8 480.1,178.1 481.1,178.0 482.1,177.0 483.1,175.2 484.1,174.1 485.1,173.4 486.1,173.0 487.1,172.8 488.1,172.2 489.1,172.6 490.1,172.8 491.1,173.3 492.1,172.5 493.1,172.1 494.1,171.8 495.1,171.5 496.1,171.1 497.1,171.1 498.1,171.8 499.1,171.6 500.1,171.2 501.1,171.3 502.1,171.4 503.1,171.3 504.1,171.0 505.1,170.4 506.1,170.5 507.1,170.9 508.1,170.8 509.1,170.1 510.1,169.9 511.1,170.3 512.1,170.3 513.1,170.7 514.1,170.5 515.1,170.7 516.1,171.0 517.1,170.5 518.1,170.1 519.1,170.0 520.1,170.0 521.1,170.3 522.1,170.7 523.1,170.7 524.1,170.9 525.1,170.3 526.1,170.1 527.1,170.0 528.1,169.9 529.1,169.5 530.1,169.6 531.1,169.9 532.1,169.6 533.1,169.1 534.1,169.2 535.1,169.3 536.1,169.4 537.1,169.5 538.1,169.2 539.1,169.2 540.1,169.7 541.1,169.3 542.1,169.0 543.1,168.7 544.1,168.6 545.1,169.5 546.1,169.2 547.1,169.5 548.1,169.6 549.1,169.1 550.1,169.0 551.1,169.1 552.1,169.5 553.1,169.9 554.1,169.4 555.1,169.7 556.1,169.6 557.1,168.8 558.1,168.7 559.1,169.1 560.1,169.4 561.1,169.3 562.1,169.7 563.1,169.2 564.1,168.4 565.1,168.7 566.1,168.5 567.1,168.8 568.1,169.3 569.1,168.8 570.1,169.0 571.1,169.4 572.1,169.7 573.1,169.5 574.1,169.0 575.1,169.0 576.1,169.0 577.1,169.0 578.1,169.0 579.1,169.1 580.1,169.5 581.1,169.2 582.1,169.1 583.1,169.7 584.1,169.1 585.1,168.3 586.1,168.6 587.1,169.2 588.1,169.0 589.1,169.1 590.1,168.6 591.1,168.9 592.1,168.9 593.1,169.1 594.1,168.8 595.1,168.6 596.1,168.9 597.1,168.4 598.1,168.5 599.1,168.9 600.1,168.9 601.1,168.6 602.1,169.2 603.1,169.6 604.1,169.4 605.1,169.1 606.1,168.3 607.1,168.8 608.1,169.1 609.1,169.4 610.1,169.3 611.1,168.8 612.1,168.3 613.1,168.9 614.1,168.7 615.1,168.6 616.1,169.0 617.1,168.9 618.1,168.4 619.1,168.3 620.1,168.6 621.1,168.9 622.1,168.9 623.1,169.3 624.1,168.7 625.1,168.4 626.1,168.1 627.1,168.5 628.1,168.7 629.1,168.3 630.1,168.4 631.1,168.2 632.1,168.0 633.1,168.3 634.1,169.3 635.1,168.7 636.1,168.7 637.1,168.9 638.1,168.4 639.1,168.5 640.1,168.6 641.1,169.2 642.1,169.0 643.1,169.1 644.1,168.5 645.1,168.1 646.1,168.1 647.1,168.3 648.1,168.9 649.1,169.8 650.1,169.0 651.1,168.7 652.1,168.4 653.1,167.9 654.1,167.8 655.1,168.6 656.1,168.1 657.1,168.2 658.1,167.7 659.1,167.2 660.1,167.2 661.1,167.4 662.1,168.2 663.1,168.5 664.1,168.6 665.1,168.2 666.1,168.8 667.1,168.5 668.1,168.7 669.1,168.6 670.1,168.6 671.1,168.4 672.1,168.0 673.1,167.5 674.1,167.9 675.1,167.9 676.1,168.1 677.1,168.2 678.1,168.2 679.1,168.8 680.1,169.2 681.1,169.0 682.1,168.7 683.1,168.3 684.1,168.3 685.1,167.8 686.1,168.2 687.1,168.1 688.1,168.3 689.1,168.3 690.1,168.0 691.1,168.6 692.1,169.1 693.1,168.3 694.1,168.5 695.1,168.6 696.1,168.1 697.1,168.2 698.1,168.3 699.1,168.3 700.1,168.2 701.1,168.5 702.1,168.3 703.1,168.0 704.1,168.4 705.1,168.6 706.1,167.8 707.1,167.7 708.1,168.3 709.1,168.8 710.1,168.7 711.1,168.9 712.1,168.0 713.1,167.6 714.1,167.2 715.1,168.0 716.1,168.2 717.1,168.8 718.1,168.3 719.1,168.1 720.1,167.8 721.1,168.6 722.1,167.7 723.1,167.5 724.1,167.4 725.1,168.0 726.1,168.2 727.1,168.1 728.1,168.2 729.1,168.4 730.1,168.6 731.1,168.8 732.1,169.1 733.1,168.2 734.1,167.8 735.1,167.9 736.1,167.8 737.1,168.2 738.1,168.3 739.1,168.1 740.1,167.6 741.1,167.6 742.1,167.4 743.1,168.5 744.1,168.6 745.1,168.4 746.1,168.0 747.1,168.3 748.1,168.2 749.1,168.2 750.1,168.9 751.1,168.2 752.1,167.9 753.1,168.4 754.1,168.1 755.1,168.3 756.1,168.4 757.1,168.4 758.1,168.5 759.1,168.6 760.1,168.3 761.1,168.2 762.1,169.0 763.1,168.7 764.1,168.1 765.1,167.7 766.1,168.6 767.1,168.3 768.1,167.9 769.1,167.0 770.1,167.6 771.1,168.0 772.1,168.0 773.1,168.1 774.1,168.3 775.1,169.0 776.1,168.2 777.1,168.1 778.1,168.4 779.1,168.6 780.1,168.9 781.1,168.3 782.1,167.7 783.1,168.3 784.1,168.2 784.5,168.1"/>
<polyline fill="none" stroke="#444444" stroke-width="3.3" stroke-linejoin="round" stroke-linecap="butt" points="1180.9,396.1 1181.9,396.0 1182.9,396.6 1183.9,396.8 1184.9,396.9 1185.9,397.2 1186.9,396.8 1187.9,397.1 1188.9,397.6 1189.9,398.0 1190.9,398.2 1191.9,398.2 1192.9,398.3 1193.9,398.9 1194.9,398.9 1195.9,399.0 1196.9,398.8 1197.9,399.6 1198.9,400.0 1199.9,400.0 1200.9,400.3 1201.9,400.2 1202.9,400.5 1203.9,400.5 1204.9,400.9 1205.9,401.0 1206.9,400.9 1207.9,400.7 1208.9,401.4 1209.9,401.7 1210.9,401.6 1211.9,401.9 1212.9,401.5 1213.9,401.7 1214.9,401.9 1215.9,401.6 1216.9,401.6 1217.9,402.1 1218.9,402.3 1219.9,402.1 1220.9,402.1 1221.9,402.0 1222.9,402.0 1223.9,402.0 1224.9,402.2 1225.9,402.2 1226.9,402.5 1227.9,402.7 1228.9,403.0 1229.9,403.2 1230.9,403.6 1231.9,403.3 1232.9,402.7 1233.9,403.1 1234.9,403.5 1235.9,404.5 1236.9,404.1 1237.9,403.9 1238.9,404.0 1239.9,404.0 1240.9,404.2 1241.9,404.5 1242.9,404.5 1243.9,404.6 1244.9,404.5 1245.9,404.1 1246.9,404.5 1247.9,404.6 1248.9,405.4 1249.9,405.5 1250.9,405.4 1251.9,404.7 1252.9,404.4 1253.9,404.9 1254.9,404.4 1255.9,404.3 1256.9,404.5 1257.9,404.8 1258.9,405.2 1259.9,405.1 1260.9,404.8 1261.9,404.5 1262.9,403.8 1263.9,404.0 1264.9,404.3 1265.9,404.7 1266.9,404.9 1267.9,404.5 1268.9,404.1 1269.9,404.1 1270.9,404.1 1271.9,404.1 1272.9,404.6 1273.9,404.5 1274.9,403.7 1275.9,404.1 1276.9,404.3 1277.9,404.1 1278.9,403.2 1279.9,403.1 1280.9,403.3 1281.9,403.5 1282.9,403.2 1283.9,403.2 1284.9,403.6 1285.9,403.7 1286.9,403.1 1287.9,402.7 1288.9,403.1 1289.9,402.8 1290.9,403.0 1291.9,402.6 1292.9,402.1 1293.9,401.9 1294.9,401.8 1295.9,401.5 1296.9,401.4 1297.9,401.6 1298.9,402.1 1299.9,402.2 1300.9,402.3 1301.9,401.9 1302.9,401.6 1303.9,402.1 1304.9,401.0 1305.9,401.3 1306.9,402.1 1307.9,402.1 1308.9,402.4 1309.9,402.1 1310.9,401.4 1311.9,401.7 1312.9,401.6 1313.9,401.7 1314.9,401.4 1315.9,401.3 1316.9,401.7 1317.9,402.0 1318.9,402.1 1319.9,401.6 1320.9,401.1 1321.9,401.6 1322.9,401.8 1323.9,401.2 1324.9,401.5 1325.9,401.1 1326.9,401.3 1327.9,401.6 1328.9,401.8 1329.9,401.5 1330.9,401.4 1331.9,401.7 1332.9,401.3 1333.9,401.8 1334.9,401.6 1335.9,401.6 1336.9,401.9 1337.9,401.8 1338.9,401.7 1339.9,401.4 1340.9,401.4 1341.9,401.0 1342.9,401.7 1343.9,401.6 1344.9,401.8 1345.9,401.5 1346.9,401.9 1347.9,401.5 1348.9,401.9 1349.9,402.0 1350.9,401.6 1351.9,401.4 1352.9,401.2 1353.9,401.4 1354.9,401.9 1355.9,401.7 1356.9,401.1 1357.9,401.2 1358.9,401.3 1359.9,401.2 1360.9,401.6 1361.9,401.8 1362.9,401.3 1363.9,401.3 1364.9,401.6 1365.9,401.4 1366.9,401.3 1367.9,401.1 1368.9,401.7 1369.9,401.7 1370.9,401.1 1371.9,401.3 1372.9,401.7 1373.9,401.5 1374.9,401.7 1375.9,401.7 1376.9,401.5 1377.9,401.5 1378.9,400.9 1379.9,401.0 1380.9,400.9 1381.9,402.0 1382.9,401.7 1383.9,401.1 1384.9,400.9 1385.9,401.2 1386.9,401.1 1387.9,401.3 1388.9,401.8 1389.9,401.3 1390.9,401.3 1391.9,401.3 1392.9,401.3 1393.9,401.1 1394.9,401.2 1395.9,401.1 1396.9,400.4 1397.9,401.0 1398.9,401.3 1399.9,401.1 1400.9,401.1 1401.9,400.7 1402.9,400.4 1403.9,400.4 1404.9,400.6 1405.9,401.0 1406.9,400.4 1407.9,400.8 1408.9,401.2 1409.9,400.9 1410.9,401.0 1411.9,400.8 1412.9,400.7 1413.9,400.6 1414.9,400.1 1415.9,400.3 1416.9,400.7 1417.9,401.1 1418.9,401.2 1419.9,400.9 1420.9,400.8 1421.9,401.1 1422.9,400.9 1423.9,400.9 1424.9,400.5 1425.9,400.6 1426.9,400.8 1427.9,401.1 1428.9,400.9 1429.9,400.7 1430.9,400.7 1431.9,400.7 1432.9,400.4 1433.9,400.9 1434.9,400.8 1435.9,400.6 1436.9,400.7 1437.9,400.8 1438.9,401.1 1439.9,401.3 1440.9,401.1 1441.9,401.2 1442.9,401.2 1443.9,401.5 1444.9,401.7 1445.9,401.0 1446.9,401.2 1447.9,400.5 1448.9,400.4 1449.9,399.7 1450.9,400.1 1451.9,400.9 1452.9,400.6 1453.9,401.0 1454.9,401.2 1455.9,401.0 1456.9,401.3 1457.9,401.4 1458.9,401.4 1459.9,401.0 1460.9,401.5 1461.9,401.0 1462.9,400.6 1463.9,400.6 1464.9,400.7 1465.9,400.8 1466.9,401.2 1467.9,401.2 1468.9,401.5 1469.9,401.0 1470.9,400.6 1471.9,400.7 1472.9,401.0 1473.9,401.4 1474.9,401.6 1475.9,401.1 1476.9,401.0 1477.9,401.2 1478.9,401.6 1479.9,400.9 1480.9,401.0 1481.9,401.2 1482.9,401.1 1483.9,401.2 1484.9,401.0 1485.9,401.0 1486.9,401.3 1487.9,401.0 1488.9,400.3 1489.9,400.2 1490.9,400.5 1491.9,401.2 1492.9,400.8 1493.9,401.3 1494.9,401.3 1495.9,401.0 1496.9,401.2 1497.9,401.3 1498.9,401.2 1499.9,401.4 1500.9,401.3 1501.9,401.0 1502.9,400.5 1503.9,400.6 1504.9,400.8 1505.9,400.8 1506.9,401.3 1507.9,401.4 1508.9,401.3 1509.9,401.3 1510.9,400.9 1511.9,401.3 1512.9,400.9 1513.9,400.9 1514.9,401.1 1515.9,400.5 1516.9,400.8 1517.9,400.5 1518.9,400.6 1519.9,400.8 1520.9,401.0 1521.9,400.7 1522.9,401.0 1523.9,401.0 1524.9,400.6 1525.9,400.7 1526.9,400.7 1527.9,400.7 1528.9,400.7 1529.9,400.7 1530.9,400.3 1531.9,400.2 1532.9,400.7 1533.9,400.9 1534.9,400.5 1535.9,400.5 1536.9,400.8 1537.9,400.6 1538.9,399.9 1539.9,400.1 1540.9,400.7 1541.9,400.7 1542.9,400.9 1543.9,400.8 1544.9,401.0 1545.9,400.1 1546.9,399.6 1547.9,399.9 1548.9,400.9 1549.9,400.7 1550.9,400.2 1551.9,400.4 1552.9,400.7 1553.9,400.9 1554.9,401.0 1555.9,401.2 1556.9,400.8 1557.9,400.3 1558.9,400.6 1559.9,400.6 1560.0,400.5 1561.2,400.0 1562.2,397.0 1563.2,394.2 1564.2,391.5 1565.2,389.5 1566.2,387.2 1567.2,385.1 1568.2,382.8 1569.2,381.6 1570.2,380.3 1571.2,378.6 1572.2,377.7 1573.2,376.7 1574.2,376.0 1575.2,374.0 1576.2,373.0 1577.2,372.0 1578.2,371.0 1579.2,370.4 1580.2,368.7 1581.2,367.5 1582.2,367.0 1583.2,366.5 1584.2,365.9 1585.2,365.6 1586.2,364.9 1587.2,363.8 1588.2,362.6 1589.2,361.7 1590.2,361.6 1591.2,361.3 1592.2,360.8 1593.2,360.5 1594.2,359.4 1595.2,359.2 1596.2,357.9 1597.2,357.0 1598.2,356.3 1599.2,355.3 1600.2,354.9 1601.2,355.4 1602.2,355.5 1603.2,355.1 1604.2,354.2 1605.2,354.0 1606.2,353.2 1607.2,353.0 1608.2,353.1 1609.2,352.4 1610.2,352.0 1611.2,351.8 1612.2,351.0 1613.2,351.0 1614.2,350.7 1615.2,350.1 1616.2,350.3 1617.2,350.4 1618.2,350.1 1619.2,349.6 1620.2,349.0 1621.2,348.3 1622.2,348.2 1623.2,347.8 1624.2,347.2 1625.2,346.9 1626.2,347.7 1627.2,347.6 1628.2,347.1 1629.2,346.8 1630.2,346.1 1631.2,346.0 1632.2,346.0 1633.2,345.5 1634.2,345.7 1635.2,345.3 1636.2,345.0 1637.2,345.3 1638.2,344.9 1639.2,344.3 1640.2,344.1 1641.2,343.6 1642.2,343.7 1643.2,343.7 1644.2,343.8 1645.2,343.2 1646.2,342.8 1647.2,343.3 1648.2,343.5 1649.2,343.0 1650.2,342.8 1651.2,342.8 1652.2,342.5 1653.2,342.5 1654.2,342.6 1655.2,342.9 1656.2,342.9 1657.2,342.7 1658.2,342.7 1659.2,342.5 1660.2,341.6 1661.2,341.6 1662.2,341.7 1663.2,341.6 1664.2,341.5 1665.2,341.3 1666.2,341.6 1667.2,341.5 1668.2,341.4 1669.2,341.0 1670.2,341.1 1671.2,341.2 1672.2,341.4 1673.2,341.2 1674.2,341.3 1675.2,341.0 1676.2,340.7 1677.2,340.2 1678.2,340.8 1679.2,340.4 1680.2,340.8 1681.2,341.0 1682.2,340.6 1683.2,340.9 1684.2,340.8 1685.2,340.7 1686.2,341.1 1687.2,340.8 1688.2,340.8 1689.2,341.2 1690.2,340.7 1691.2,340.3 1692.2,340.6 1693.2,341.4 1694.2,341.0 1695.2,340.9 1696.2,340.4 1697.2,340.7 1698.2,340.6 1699.2,340.3 1700.2,339.6 1701.2,339.1 1702.2,339.5 1703.2,340.1 1704.2,340.0 1705.2,339.7 1706.2,340.2 1707.2,340.2 1708.2,339.9 1709.2,339.2 1710.2,339.5 1711.2,339.2 1712.2,339.3 1713.2,339.8 1714.2,340.1 1715.2,340.2 1716.2,339.3 1717.2,338.5 1718.2,338.8 1719.2,339.1 1720.2,339.4 1721.2,339.8 1722.2,339.7 1723.2,339.2 1724.2,338.8 1725.2,338.8 1726.2,338.7 1727.2,338.9 1728.2,339.0 1729.2,339.2 1730.2,338.7 1731.2,338.6 1732.2,338.4 1733.2,339.1 1734.2,338.8 1735.2,339.1 1736.2,339.0 1737.2,338.7 1738.2,338.9 1739.2,339.2 1740.2,339.8 1741.2,339.2 1742.2,338.9 1743.2,338.9 1744.2,338.4 1745.2,338.8 1746.2,338.9 1747.2,339.1 1748.2,338.9 1749.2,338.8 1750.2,338.6 1751.2,338.9 1752.2,339.1 1753.2,338.5 1754.2,338.6 1755.2,338.2 1756.2,338.4 1757.2,338.7 1758.2,339.4 1759.2,338.8 1760.2,338.4 1761.2,338.2 1762.2,338.3 1763.2,338.5 1764.2,338.1 1765.2,338.4 1766.2,338.7 1767.2,338.6 1768.2,338.4 1769.2,338.3 1770.2,338.8 1771.2,338.8 1772.2,338.4 1773.2,338.4 1774.2,338.7 1775.2,338.9 1776.2,338.7 1777.2,338.7 1778.2,338.8 1779.2,338.6 1780.2,338.4 1781.2,338.1 1782.2,338.3 1783.2,338.7 1784.2,338.4 1785.2,338.3 1786.2,337.6 1787.2,338.0 1788.2,338.1 1789.2,338.3 1790.2,338.1 1791.2,338.1 1792.2,338.2 1793.2,337.8 1794.2,337.8 1795.2,338.3 1796.2,338.8 1797.2,338.8 1798.2,338.4 1799.2,338.0 1800.2,338.8 1801.2,338.3 1802.2,338.4 1803.2,337.7 1804.2,338.2 1805.2,338.7 1806.2,338.9 1807.2,338.5 1808.2,338.2 1809.2,338.0 1810.2,337.5 1811.2,338.1 1812.2,338.1 1813.2,337.7 1814.2,337.7 1815.2,338.0 1816.2,338.4 1817.2,338.1 1818.2,337.8 1819.2,337.5 1820.2,337.5 1821.2,337.7 1822.2,337.5 1823.2,337.5 1824.2,337.8 1825.2,338.1 1826.2,338.1 1827.2,338.1 1828.2,338.2 1829.2,337.9 1830.2,337.6 1831.2,337.9 1832.2,337.7 1833.2,338.3 1834.2,337.7 1835.2,338.2 1836.2,338.4 1837.2,338.7 1838.2,338.5 1839.2,338.3 1840.2,338.6 1841.2,338.4 1842.2,338.4 1843.2,338.3 1844.2,338.3 1845.2,338.5 1846.2,338.6 1847.2,338.0 1848.2,337.8 1849.2,337.9 1850.2,338.2 1851.2,337.9 1852.2,337.4 1853.2,337.5 1854.2,337.5 1855.2,337.6 1856.2,337.9 1857.2,337.9 1858.2,338.6 1859.2,338.6 1860.2,338.1 1861.2,337.5 1862.2,337.5 1863.2,337.7 1864.2,337.3 1864.5,336.9"/>
<polyline fill="none" stroke="#7C0309" stroke-width="3.3" stroke-linejoin="round" stroke-linecap="butt" points="1179.0,397.3 1180.0,395.2 1181.0,393.4 1182.0,393.1 1183.0,393.2 1184.0,393.7 1185.0,393.8 1186.0,394.0 1187.0,393.5 1188.0,393.0 1189.0,392.7 1190.0,394.2 1191.0,394.7 1192.0,394.1 1193.0,393.3 1194.0,392.0 1195.0,391.9 1196.0,393.1 1197.0,393.0 1198.0,392.3 1199.0,393.5 1200.0,393.5 1201.0,393.3 1202.0,392.8 1203.0,392.8 1204.0,392.6 1205.0,393.1 1206.0,392.8 1207.0,392.6 1208.0,392.8 1209.0,392.8 1210.0,393.1 1211.0,393.5 1212.0,393.7 1213.0,394.8 1214.0,393.2 1215.0,393.2 1216.0,393.7 1217.0,394.3 1218.0,392.9 1219.0,393.0 1220.0,393.9 1221.0,393.9 1222.0,392.7 1223.0,393.3 1224.0,393.1 1225.0,393.5 1226.0,392.9 1227.0,394.1 1228.0,394.1 1229.0,393.6 1230.0,393.4 1231.0,393.4 1232.0,393.6 1233.0,394.2 1234.0,394.0 1235.0,394.7 1236.0,394.0 1237.0,394.4 1238.0,394.9 1239.0,393.8 1240.0,395.0 1241.0,395.1 1242.0,393.5 1243.0,393.7 1244.0,393.8 1245.0,394.0 1246.0,393.3 1247.0,393.1 1248.0,392.8 1249.0,392.7 1250.0,393.2 1251.0,393.2 1252.0,394.3 1253.0,393.6 1254.0,394.4 1254.8,391.6 1255.8,377.5 1256.8,366.8 1257.8,356.9 1258.8,349.7 1259.8,342.5 1260.8,334.8 1261.8,327.0 1262.8,319.9 1263.8,314.1 1264.8,307.2 1265.8,301.4 1266.8,295.4 1267.8,289.9 1268.8,285.0 1269.8,281.0 1270.8,277.0 1271.8,272.3 1272.8,267.4 1273.8,261.7 1274.8,256.4 1275.8,251.7 1276.8,248.4 1277.8,245.2 1278.8,242.8 1279.8,240.8 1280.8,238.4 1281.8,235.5 1282.8,233.4 1283.8,230.8 1284.8,228.7 1285.8,225.8 1286.8,223.9 1287.8,221.1 1288.8,219.5 1289.8,216.8 1290.8,215.0 1291.8,213.2 1292.8,211.3 1293.8,208.9 1294.8,206.3 1295.8,204.2 1296.8,202.8 1297.8,199.9 1298.8,198.0 1299.8,196.3 1300.8,195.4 1301.8,193.4 1302.8,192.7 1303.8,191.4 1304.8,190.0 1305.8,189.1 1306.8,187.9 1307.8,186.1 1308.8,185.5 1309.8,184.3 1310.8,182.9 1311.8,182.0 1312.8,180.9 1313.8,179.5 1314.8,178.2 1315.8,177.3 1316.8,176.7 1317.8,175.4 1318.8,174.5 1319.8,173.4 1320.8,173.2 1321.8,172.8 1322.8,172.0 1323.8,171.7 1324.8,171.2 1325.8,170.3 1326.8,168.6 1327.8,168.3 1328.8,167.9 1329.8,167.4 1330.8,166.8 1331.8,166.7 1332.8,166.8 1333.8,166.1 1334.8,165.5 1335.8,164.9 1336.8,164.2 1337.8,164.1 1338.8,164.5 1339.8,163.9 1340.8,164.0 1341.8,163.7 1342.8,162.9 1343.8,162.5 1344.8,162.1 1345.8,161.2 1346.8,160.8 1347.8,161.1 1348.8,160.8 1349.8,160.1 1350.8,159.7 1351.8,159.7 1352.8,159.4 1353.8,158.6 1354.8,158.2 1355.8,158.1 1356.8,158.0 1357.8,157.4 1358.8,157.7 1359.8,157.5 1360.8,157.0 1361.8,156.8 1362.8,156.6 1363.8,156.6 1364.8,156.5 1365.8,155.9 1366.8,155.5 1367.8,155.5 1368.8,154.9 1369.8,155.0 1370.8,155.2 1371.8,155.7 1372.8,154.8 1373.8,154.8 1374.8,153.8 1375.8,153.4 1376.8,153.1 1377.8,152.7 1378.8,153.1 1379.8,152.6 1380.8,152.6 1381.8,152.9 1382.8,152.5 1383.8,152.6 1384.8,153.5 1385.8,153.3 1386.8,152.6 1387.8,152.3 1388.8,153.0 1389.8,152.6 1390.8,151.8 1391.8,151.1 1392.8,151.4 1393.8,151.8 1394.8,151.5 1395.8,151.5 1396.8,151.1 1397.8,151.5 1398.8,151.4 1399.8,151.5 1400.8,151.5 1401.8,151.7 1402.8,151.0 1403.8,150.7 1404.8,150.8 1405.8,150.4 1406.8,150.3 1407.8,149.7 1408.8,149.3 1409.8,149.3 1410.8,149.4 1411.8,148.9 1412.8,149.2 1413.8,149.3 1414.8,150.2 1415.8,150.4 1416.8,149.7 1417.8,149.2 1418.8,149.3 1419.8,149.6 1420.8,149.5 1421.8,149.2 1422.8,148.8 1423.8,148.8 1424.8,148.8 1425.8,148.0 1426.8,147.9 1427.8,147.6 1428.8,148.3 1429.8,148.1 1430.8,148.0 1431.8,148.6 1432.8,148.3 1433.8,148.1 1434.8,147.6 1435.8,147.8 1436.8,148.2 1437.8,147.3 1438.8,147.4 1439.8,147.4 1440.8,147.4 1441.8,147.4 1442.8,147.6 1443.8,147.6 1444.8,147.6 1445.8,147.8 1446.8,147.6 1447.8,147.8 1448.8,147.2 1449.8,147.4 1450.8,147.4 1451.8,147.3 1452.8,147.2 1453.8,147.0 1454.8,147.0 1455.8,147.3 1456.8,147.3 1457.8,147.1 1458.8,146.7 1459.8,146.5 1460.8,146.7 1461.8,146.4 1462.8,147.1 1463.8,147.2 1464.8,146.4 1465.8,146.7 1466.8,146.4 1467.8,146.5 1468.8,145.6 1469.8,145.7 1470.8,146.4 1471.8,147.0 1472.8,145.8 1473.8,145.5 1474.8,146.1 1475.8,145.8 1476.8,146.1 1477.8,145.2 1478.8,145.0 1479.8,145.6 1480.8,146.3 1481.8,146.8 1482.8,147.1 1483.8,146.1 1484.8,146.2 1485.8,146.2 1486.8,145.9 1487.8,145.8 1488.8,146.0 1489.8,145.6 1490.8,145.8 1491.8,145.8 1492.8,146.1 1493.8,145.5 1494.8,146.3 1495.8,145.8 1496.8,145.3 1497.8,144.9 1498.8,144.9 1499.8,144.7 1500.8,145.2 1501.8,146.1 1502.8,146.3 1503.8,145.9 1504.8,145.2 1505.8,145.0 1506.8,144.9 1507.8,145.1 1508.8,145.7 1509.8,145.4 1510.8,144.7 1511.8,144.7 1512.8,144.9 1513.8,145.4 1514.8,145.3 1515.8,145.2 1516.8,144.5 1517.8,144.1 1518.8,144.6 1519.8,144.6 1520.8,144.4 1521.8,144.2 1522.8,144.5 1523.8,145.0 1524.8,144.7 1525.8,145.2 1526.8,145.1 1527.8,144.3 1528.8,144.1 1529.8,143.5 1530.8,143.8 1531.8,144.6 1532.8,145.0 1533.8,144.5 1534.8,143.9 1535.8,144.4 1536.8,144.1 1537.8,144.0 1538.8,143.8 1539.8,143.3 1540.8,143.6 1541.8,144.6 1542.8,144.7 1543.8,144.0 1544.8,143.9 1545.8,144.3 1546.8,144.6 1547.8,143.6 1548.8,143.6 1549.8,144.0 1550.8,143.4 1551.8,143.2 1552.8,142.0 1553.8,143.2 1554.8,143.2 1555.8,142.8 1556.8,143.0 1557.8,143.5 1558.8,146.6 1559.8,149.6 1560.8,149.2 1561.8,145.7 1562.8,143.2 1563.8,142.9 1564.8,142.3 1565.8,141.8 1566.8,141.9 1567.8,142.3 1568.8,142.0 1569.8,142.2 1570.8,142.2 1571.8,141.4 1572.8,141.6 1573.8,141.8 1574.8,142.1 1575.8,142.6 1576.8,142.1 1577.8,141.8 1578.8,141.5 1579.8,141.5 1580.8,141.5 1581.8,141.6 1582.8,141.9 1583.8,141.6 1584.8,141.2 1585.8,141.4 1586.8,141.5 1587.8,142.0 1588.8,141.6 1589.8,142.0 1590.8,142.0 1591.8,141.1 1592.8,141.4 1593.8,140.9 1594.8,141.9 1595.8,141.6 1596.8,140.8 1597.8,140.5 1598.8,141.1 1599.8,141.5 1600.8,141.2 1601.8,141.4 1602.8,140.9 1603.8,141.0 1604.8,141.2 1605.8,140.9 1606.8,141.0 1607.8,140.6 1608.8,140.6 1609.8,141.0 1610.8,141.1 1611.8,141.4 1612.8,141.0 1613.8,141.1 1614.8,141.2 1615.8,141.6 1616.8,142.0 1617.8,141.7 1618.8,141.1 1619.8,141.5 1620.8,141.6 1621.8,141.3 1622.8,141.3 1623.8,141.3 1624.8,141.7 1625.8,141.1 1626.8,140.7 1627.8,140.9 1628.8,141.2 1629.8,141.3 1630.8,141.3 1631.8,140.8 1632.8,140.2 1633.8,140.5 1634.8,140.6 1635.8,141.0 1636.8,141.2 1637.8,140.5 1638.8,141.1 1639.8,141.5 1640.8,141.3 1641.8,141.3 1642.8,140.8 1643.8,140.5 1644.8,139.9 1645.8,140.4 1646.8,140.4 1647.8,141.1 1648.8,141.0 1649.8,140.7 1650.8,139.8 1651.8,139.9 1652.8,140.3 1653.8,140.2 1654.8,140.7 1655.8,140.8 1656.8,140.5 1657.8,140.0 1658.8,140.2 1659.8,140.3 1660.8,140.3 1661.8,140.6 1662.8,141.0 1663.8,140.5 1664.8,140.3 1665.8,139.1 1666.8,139.7 1667.8,139.5 1668.8,140.1 1669.8,140.0 1670.8,140.2 1671.8,140.6 1672.8,140.1 1673.8,139.8 1674.8,139.5 1675.8,139.5 1676.8,139.6 1677.8,140.4 1678.8,140.1 1679.8,139.7 1680.8,139.9 1681.8,139.8 1682.8,140.3 1683.8,139.6 1684.8,139.6 1685.8,139.3 1686.8,139.7 1687.8,140.0 1688.8,139.4 1689.8,139.4 1690.8,138.9 1691.8,139.4 1692.8,139.7 1693.8,139.4 1694.8,139.8 1695.8,139.6 1696.8,139.1 1697.8,139.6 1698.8,138.7 1699.8,138.6 1700.8,138.5 1701.8,138.8 1702.8,139.3 1703.8,139.1 1704.8,139.1 1705.8,139.4 1706.8,139.6 1707.8,139.5 1708.8,138.3 1709.8,138.5 1710.8,139.3 1711.8,138.6 1712.8,138.7 1713.8,139.2 1714.8,139.2 1715.8,139.1 1716.8,138.9 1717.8,138.5 1718.8,138.5 1719.8,138.7 1720.8,138.7 1721.8,138.3 1722.8,138.0 1723.8,138.4 1724.8,139.4 1725.8,139.4 1726.8,139.6 1727.8,139.2 1728.8,138.6 1729.8,138.7 1730.8,138.9 1731.8,138.3 1732.8,138.2 1733.8,138.3 1734.8,139.0 1735.8,139.0 1736.8,139.6 1737.8,139.8 1738.8,139.6 1739.8,138.6 1740.8,138.1 1741.8,138.0 1742.8,138.5 1743.8,138.4 1744.8,138.6 1745.8,139.2 1746.8,138.9 1747.8,139.0 1748.8,138.6 1749.8,138.4 1750.8,138.9 1751.8,138.4 1752.8,138.8 1753.8,138.3 1754.8,138.5 1755.8,139.2 1756.8,139.3 1757.8,138.5 1758.8,138.3 1759.8,138.5 1760.8,137.8 1761.8,137.2 1762.8,138.0 1763.8,138.8 1764.8,138.5 1765.8,139.0 1766.8,139.0 1767.8,138.3 1768.8,137.4 1769.8,138.0 1770.8,138.0 1771.8,138.6 1772.8,138.5 1773.8,137.6 1774.8,138.1 1775.8,137.5 1776.8,137.4 1777.8,137.8 1778.8,138.1 1779.8,137.5 1780.8,137.5 1781.8,137.8 1782.8,137.8 1783.8,138.1 1784.8,138.3 1785.8,138.5 1786.8,138.5 1787.8,138.4 1788.8,138.7 1789.8,138.6 1790.8,138.2 1791.8,138.8 1792.8,138.7 1793.8,138.1 1794.8,138.1 1795.8,137.9 1796.8,138.0 1797.8,137.9 1798.8,138.1 1799.8,138.2 1800.8,138.4 1801.8,138.2 1802.8,137.7 1803.8,137.9 1804.8,138.1 1805.8,138.7 1806.8,138.4 1807.8,138.4 1808.8,137.5 1809.8,137.6 1810.8,136.8 1811.8,137.0 1812.8,137.5 1813.8,137.7 1814.8,138.0 1815.8,137.7 1816.8,138.0 1817.8,137.6 1818.8,137.4 1819.8,137.5 1820.8,137.5 1821.8,137.8 1822.8,137.6 1823.8,137.3 1824.8,137.9 1825.8,138.4 1826.8,138.0 1827.8,137.7 1828.8,137.9 1829.8,137.9 1830.8,138.0 1831.8,136.7 1832.8,136.4 1833.8,136.8 1834.8,137.0 1835.8,138.0 1836.8,139.1 1837.8,138.4 1838.8,138.4 1839.8,137.9 1840.8,137.4 1841.8,137.7 1842.8,137.6 1843.8,137.2 1844.8,137.7 1845.8,137.1 1846.8,136.9 1847.8,136.7 1848.8,137.2 1849.8,137.3 1850.8,137.0 1851.8,136.5 1852.8,137.2 1853.8,136.8 1854.8,137.2 1855.8,137.6 1856.8,136.8 1857.8,136.7 1858.8,136.2 1859.8,136.6 1860.8,136.4 1861.8,136.6 1862.8,136.2 1863.8,136.3 1864.8,136.7 1865.8,136.0 1866.3,135.9"/>
<polyline fill="none" stroke="#1AE220" stroke-width="3.3" stroke-linejoin="round" stroke-linecap="butt" points="1178.5,398.8 1180.5,395.0 1182.5,393.0 1184.5,392.9 1186.5,393.2 1188.5,392.9 1190.5,393.5 1192.5,393.4 1194.5,394.2 1196.5,393.1 1198.5,392.4 1200.5,393.2 1202.5,393.3 1204.5,393.2 1206.5,392.6 1208.5,393.5 1210.5,393.1 1212.5,393.2 1214.5,392.4 1216.5,392.8 1218.5,393.2 1220.5,393.3 1222.5,393.3 1224.5,392.7 1226.5,393.2 1228.5,392.6 1230.5,393.0 1232.5,392.6 1234.5,393.0 1236.5,392.9 1238.5,393.1 1240.5,393.0 1242.5,392.9 1244.5,392.9 1246.5,392.5 1248.5,393.2 1250.5,392.9 1252.5,392.3 1254.3,393.4 1255.2,394.2 1256.2,379.5 1257.2,367.5 1258.2,358.8 1259.2,351.7 1260.2,344.8 1261.2,337.3 1262.2,328.8 1263.2,321.6 1264.2,315.3 1265.2,309.2 1266.2,302.8 1267.2,296.9 1268.2,292.1 1269.2,287.5 1270.2,283.4 1271.2,278.9 1272.2,275.6 1273.2,271.4 1274.2,267.8 1275.2,263.0 1276.2,258.8 1277.2,254.9 1278.2,251.3 1279.2,247.6 1280.2,245.2 1281.2,242.0 1282.2,239.2 1283.2,236.4 1284.2,234.0 1285.2,231.7 1286.2,229.3 1287.2,227.9 1288.2,225.7 1289.2,223.7 1290.2,222.3 1291.2,220.5 1292.2,217.8 1293.2,215.9 1294.2,214.8 1295.2,212.5 1296.2,210.9 1297.2,208.9 1298.2,207.4 1299.2,206.2 1300.2,204.9 1301.2,203.0 1302.2,201.7 1303.2,200.5 1304.2,198.9 1305.2,197.9 1306.2,196.8 1307.2,195.5 1308.2,194.8 1309.2,193.5 1310.2,192.6 1311.2,191.7 1312.2,190.7 1313.2,189.4 1314.2,188.5 1315.2,187.8 1316.2,186.8 1317.2,185.4 1318.2,184.0 1319.2,183.6 1320.2,183.1 1321.2,182.8 1322.2,182.6 1323.2,182.0 1324.2,181.4 1325.2,180.7 1326.2,180.5 1327.2,180.0 1328.2,179.7 1329.2,178.6 1330.2,178.6 1331.2,178.9 1332.2,178.5 1333.2,178.7 1334.2,178.3 1335.2,177.4 1336.2,176.9 1337.2,176.3 1338.2,176.0 1339.2,175.4 1340.2,175.8 1341.2,175.0 1342.2,175.0 1343.2,175.3 1344.2,174.4 1345.2,173.6 1346.2,172.8 1347.2,173.1 1348.2,173.0 1349.2,172.5 1350.2,171.9 1351.2,171.6 1352.2,171.3 1353.2,171.1 1354.2,170.4 1355.2,170.3 1356.2,170.1 1357.2,169.7 1358.2,169.5 1359.2,169.7 1360.2,169.0 1361.2,169.2 1362.2,169.0 1363.2,168.7 1364.2,168.4 1365.2,168.0 1366.2,168.0 1367.2,167.1 1368.2,167.1 1369.2,167.6 1370.2,167.9 1371.2,167.7 1372.2,166.7 1373.2,166.6 1374.2,167.4 1375.2,166.5 1376.2,166.4 1377.2,166.3 1378.2,166.0 1379.2,165.4 1380.2,165.5 1381.2,165.1 1382.2,165.2 1383.2,164.9 1384.2,164.4 1385.2,164.3 1386.2,164.2 1387.2,164.9 1388.2,164.1 1389.2,164.0 1390.2,164.4 1391.2,164.0 1392.2,164.2 1393.2,163.8 1394.2,163.4 1395.2,163.0 1396.2,162.8 1397.2,163.3 1398.2,163.5 1399.2,162.9 1400.2,162.5 1401.2,162.6 1402.2,162.4 1403.2,162.9 1404.2,162.8 1405.2,162.8 1406.2,162.2 1407.2,162.5 1408.2,161.9 1409.2,161.9 1410.2,162.0 1411.2,162.0 1412.2,161.6 1413.2,161.6 1414.2,161.5 1415.2,161.5 1416.2,161.6 1417.2,161.3 1418.2,161.2 1419.2,161.3 1420.2,161.5 1421.2,160.9 1422.2,161.1 1423.2,161.0 1424.2,160.6 1425.2,161.0 1426.2,160.9 1427.2,160.7 1428.2,161.0 1429.2,161.4 1430.2,161.3 1431.2,161.3 1432.2,161.1 1433.2,160.6 1434.2,160.8 1435.2,161.0 1436.2,161.2 1437.2,160.6 1438.2,160.2 1439.2,160.4 1440.2,159.9 1441.2,160.2 1442.2,159.8 1443.2,159.3 1444.2,159.7 1445.2,160.5 1446.2,159.9 1447.2,159.6 1448.2,159.8 1449.2,159.8 1450.2,160.4 1451.2,160.1 1452.2,159.7 1453.2,159.8 1454.2,159.8 1455.2,160.0 1456.2,159.3 1457.2,159.4 1458.2,159.6 1459.2,159.4 1460.2,159.8 1461.2,159.4 1462.2,159.1 1463.2,159.3 1464.2,160.1 1465.2,160.1 1466.2,159.5 1467.2,159.8 1468.2,159.7 1469.2,159.6 1470.2,158.9 1471.2,159.5 1472.2,159.3 1473.2,159.4 1474.2,159.2 1475.2,159.7 1476.2,159.7 1477.2,159.0 1478.2,158.6 1479.2,158.8 1480.2,159.2 1481.2,159.1 1482.2,159.0 1483.2,158.5 1484.2,159.0 1485.2,158.9 1486.2,159.2 1487.2,159.3 1488.2,158.9 1489.2,158.9 1490.2,159.0 1491.2,158.9 1492.2,159.2 1493.2,159.0 1494.2,158.2 1495.2,158.6 1496.2,158.9 1497.2,159.0 1498.2,158.6 1499.2,158.6 1500.2,158.9 1501.2,159.1 1502.2,159.1 1503.2,159.1 1504.2,158.8 1505.2,158.8 1506.2,158.9 1507.2,158.3 1508.2,158.2 1509.2,158.3 1510.2,157.9 1511.2,157.9 1512.2,158.2 1513.2,158.1 1514.2,158.4 1515.2,158.7 1516.2,158.4 1517.2,158.5 1518.2,158.1 1519.2,157.7 1520.2,158.3 1521.2,158.5 1522.2,158.2 1523.2,158.1 1524.2,158.1 1525.2,157.9 1526.2,157.4 1527.2,157.6 1528.2,157.8 1529.2,158.2 1530.2,158.3 1531.2,158.6 1532.2,158.8 1533.2,158.7 1534.2,157.8 1535.2,158.0 1536.2,157.2 1537.2,157.6 1538.2,157.4 1539.2,157.6 1540.2,157.2 1541.2,157.6 1542.2,157.8 1543.2,157.8 1544.2,157.4 1545.2,157.6 1546.2,157.6 1547.2,158.5 1548.2,157.9 1549.2,157.8 1550.2,157.3 1551.2,157.4 1552.2,157.6 1553.2,158.0 1554.2,158.0 1555.2,157.6 1556.2,157.5 1557.2,158.1 1558.2,158.6 1559.2,160.3 1560.2,161.2 1561.2,159.0 1562.2,154.2 1563.2,150.7 1564.2,148.1 1565.2,145.8 1566.2,143.5 1567.2,143.1 1568.2,142.4 1569.2,141.6 1570.2,141.1 1571.2,141.0 1572.2,140.4 1573.2,140.0 1574.2,139.9 1575.2,139.9 1576.2,139.3 1577.2,139.2 1578.2,138.8 1579.2,137.8 1580.2,137.1 1581.2,136.7 1582.2,136.6 1583.2,136.3 1584.2,136.1 1585.2,135.3 1586.2,134.8 1587.2,134.8 1588.2,134.9 1589.2,135.1 1590.2,134.5 1591.2,134.9 1592.2,135.0 1593.2,134.8 1594.2,134.5 1595.2,134.4 1596.2,134.4 1597.2,134.8 1598.2,134.0 1599.2,134.2 1600.2,134.5 1601.2,134.0 1602.2,133.8 1603.2,133.7 1604.2,133.9 1605.2,133.3 1606.2,133.4 1607.2,133.7 1608.2,133.3 1609.2,133.0 1610.2,132.9 1611.2,132.4 1612.2,133.1 1613.2,133.2 1614.2,132.7 1615.2,132.7 1616.2,132.7 1617.2,132.9 1618.2,133.1 1619.2,133.2 1620.2,132.1 1621.2,130.8 1622.2,130.9 1623.2,131.5 1624.2,131.7 1625.2,131.3 1626.2,130.9 1627.2,130.8 1628.2,131.0 1629.2,130.4 1630.2,130.7 1631.2,130.9 1632.2,131.2 1633.2,130.6 1634.2,130.9 1635.2,130.9 1636.2,130.4 1637.2,131.5 1638.2,131.3 1639.2,130.7 1640.2,130.2 1641.2,130.6 1642.2,130.8 1643.2,130.7 1644.2,129.9 1645.2,129.2 1646.2,129.4 1647.2,129.4 1648.2,130.3 1649.2,129.8 1650.2,129.7 1651.2,130.0 1652.2,131.1 1653.2,130.1 1654.2,129.5 1655.2,129.5 1656.2,129.1 1657.2,129.6 1658.2,130.3 1659.2,130.9 1660.2,130.8 1661.2,129.6 1662.2,129.5 1663.2,129.7 1664.2,129.7 1665.2,128.8 1666.2,129.0 1667.2,129.8 1668.2,130.4 1669.2,130.3 1670.2,130.1 1671.2,130.0 1672.2,129.8 1673.2,129.8 1674.2,130.2 1675.2,129.7 1676.2,129.8 1677.2,129.8 1678.2,129.3 1679.2,129.1 1680.2,129.7 1681.2,130.4 1682.2,129.8 1683.2,129.1 1684.2,129.4 1685.2,129.7 1686.2,129.2 1687.2,128.9 1688.2,129.5 1689.2,129.8 1690.2,129.0 1691.2,128.5 1692.2,128.4 1693.2,129.3 1694.2,129.4 1695.2,129.5 1696.2,129.2 1697.2,128.7 1698.2,129.0 1699.2,128.9 1700.2,128.5 1701.2,128.9 1702.2,129.2 1703.2,129.2 1704.2,129.4 1705.2,129.1 1706.2,129.3 1707.2,128.9 1708.2,128.9 1709.2,129.4 1710.2,129.1 1711.2,128.5 1712.2,128.8 1713.2,129.1 1714.2,128.8 1715.2,127.9 1716.2,127.9 1717.2,128.2 1718.2,128.4 1719.2,128.7 1720.2,128.6 1721.2,129.0 1722.2,128.6 1723.2,127.7 1724.2,127.7 1725.2,127.9 1726.2,128.3 1727.2,128.5 1728.2,128.3 1729.2,127.9 1730.2,126.8 1731.2,127.0 1732.2,127.8 1733.2,127.9 1734.2,128.1 1735.2,127.8 1736.2,128.5 1737.2,128.6 1738.2,128.3 1739.2,127.8 1740.2,127.6 1741.2,128.6 1742.2,128.5 1743.2,128.1 1744.2,128.9 1745.2,128.5 1746.2,128.3 1747.2,128.5 1748.2,128.5 1749.2,128.4 1750.2,128.3 1751.2,128.0 1752.2,128.4 1753.2,128.4 1754.2,128.0 1755.2,127.9 1756.2,128.0 1757.2,127.9 1758.2,127.7 1759.2,127.7 1760.2,128.4 1761.2,128.2 1762.2,127.6 1763.2,127.3 1764.2,127.4 1765.2,128.0 1766.2,128.0 1767.2,127.7 1768.2,127.6 1769.2,128.1 1770.2,128.1 1771.2,128.3 1772.2,128.7 1773.2,129.1 1774.2,128.8 1775.2,128.1 1776.2,128.0 1777.2,128.2 1778.2,128.9 1779.2,128.7 1780.2,128.2 1781.2,128.1 1782.2,128.3 1783.2,128.0 1784.2,128.3 1785.2,128.3 1786.2,127.8 1787.2,128.2 1788.2,128.0 1789.2,128.3 1790.2,128.0 1791.2,128.2 1792.2,128.0 1793.2,127.7 1794.2,127.9 1795.2,127.8 1796.2,127.8 1797.2,127.7 1798.2,127.8 1799.2,127.9 1800.2,128.3 1801.2,128.7 1802.2,128.5 1803.2,128.2 1804.2,127.9 1805.2,127.7 1806.2,127.6 1807.2,128.2 1808.2,127.8 1809.2,127.9 1810.2,128.4 1811.2,127.6 1812.2,128.2 1813.2,127.8 1814.2,127.9 1815.2,127.9 1816.2,127.8 1817.2,127.7 1818.2,127.4 1819.2,127.8 1820.2,127.7 1821.2,127.7 1822.2,127.5 1823.2,127.6 1824.2,127.0 1825.2,127.7 1826.2,127.6 1827.2,127.1 1828.2,127.0 1829.2,127.1 1830.2,127.1 1831.2,127.9 1832.2,127.0 1833.2,127.3 1834.2,127.1 1835.2,126.9 1836.2,127.0 1837.2,126.8 1838.2,127.4 1839.2,127.1 1840.2,127.7 1841.2,127.3 1842.2,126.8 1843.2,126.6 1844.2,127.1 1845.2,127.1 1846.2,127.0 1847.2,127.0 1848.2,126.8 1849.2,127.2 1850.2,127.3 1851.2,126.4 1852.2,126.6 1853.2,127.6 1854.2,127.6 1855.2,127.0 1856.2,126.9 1857.2,126.9 1858.2,127.5 1859.2,127.5 1860.2,127.2 1861.2,127.3 1862.2,128.0 1863.2,128.3 1864.2,127.1 1865.2,126.6 1866.2,126.9 1866.3,126.6"/>
<g font-family="'Liberation Sans', Arial, Helvetica, sans-serif" fill="#000">
<text x="0" y="0" font-size="34" font-weight="bold" transform="translate(-1.77 24.7) scale(0.92 1.02)">a</text>
<text x="1052.0" y="24.8" font-size="34" text-anchor="start" font-weight="bold">b</text>
<text x="97.9" y="463.4" font-size="25" text-anchor="middle" font-weight="normal">360</text>
<text x="1167.9" y="463.4" font-size="25" text-anchor="middle" font-weight="normal">360</text>
<text x="223.2" y="463.4" font-size="25" text-anchor="middle" font-weight="normal">460</text>
<text x="1293.2" y="463.4" font-size="25" text-anchor="middle" font-weight="normal">460</text>
<text x="355.0" y="463.4" font-size="25" text-anchor="middle" font-weight="normal">560</text>
<text x="1425.0" y="463.4" font-size="25" text-anchor="middle" font-weight="normal">560</text>
<text x="479.9" y="463.4" font-size="25" text-anchor="middle" font-weight="normal">660</text>
<text x="1549.9" y="463.4" font-size="25" text-anchor="middle" font-weight="normal">660</text>
<text x="612.7" y="463.4" font-size="25" text-anchor="middle" font-weight="normal">760</text>
<text x="1682.7" y="463.4" font-size="25" text-anchor="middle" font-weight="normal">760</text>
<text x="736.5" y="463.4" font-size="25" text-anchor="middle" font-weight="normal">860</text>
<text x="1806.5" y="463.4" font-size="25" text-anchor="middle" font-weight="normal">860</text>
<text x="67.3" y="71.2" font-size="25" text-anchor="middle" font-weight="normal" transform="rotate(-90 67.3 71.2)">0.8</text>
<text x="67.3" y="154.4" font-size="25" text-anchor="middle" font-weight="normal" transform="rotate(-90 67.3 154.4)">0.6</text>
<text x="67.3" y="237.3" font-size="25" text-anchor="middle" font-weight="normal" transform="rotate(-90 67.3 237.3)">0.4</text>
<text x="67.3" y="320.6" font-size="25" text-anchor="middle" font-weight="normal" transform="rotate(-90 67.3 320.6)">0.2</text>
<text x="67.3" y="397.3" font-size="25" text-anchor="middle" font-weight="normal" transform="rotate(-90 67.3 397.3)">0.0</text>
<text x="1142.0" y="65.2" font-size="25" text-anchor="middle" font-weight="normal" transform="rotate(-90 1142.0 65.2)">0.8</text>
<text x="1142.0" y="148.5" font-size="25" text-anchor="middle" font-weight="normal" transform="rotate(-90 1142.0 148.5)">0.6</text>
<text x="1142.0" y="231.3" font-size="25" text-anchor="middle" font-weight="normal" transform="rotate(-90 1142.0 231.3)">0.4</text>
<text x="1142.0" y="314.8" font-size="25" text-anchor="middle" font-weight="normal" transform="rotate(-90 1142.0 314.8)">0.2</text>
<text x="1142.0" y="391.4" font-size="25" text-anchor="middle" font-weight="normal" transform="rotate(-90 1142.0 391.4)">0.0</text>
<text x="429.9" y="509.6" font-size="25" text-anchor="middle" font-weight="normal">Times (s)</text>
<text x="1506.0" y="509.6" font-size="25" text-anchor="middle" font-weight="normal">Times (s)</text>
<text x="25.8" y="235.0" font-size="29.5" text-anchor="middle" font-weight="normal" transform="rotate(-90 25.8 235.0)">Shift (nM)</text>
<text x="1100.0" y="231.7" font-size="29.5" text-anchor="middle" font-weight="normal" transform="rotate(-90 1100.0 231.7)">Shift (nM)</text>
<line x1="821.5" y1="133.8" x2="859.4" y2="133.8" stroke="#E2953E" stroke-width="3.3"/>
<text x="880.3" y="139.0" font-size="25" text-anchor="start" font-weight="normal">buffer+CB6</text>
<line x1="821.5" y1="169.8" x2="859.4" y2="169.8" stroke="#8008C4" stroke-width="3.3"/>
<text x="880.3" y="174.9" font-size="25" text-anchor="start" font-weight="normal">buffer+CA1</text>
<line x1="821.5" y1="208.4" x2="859.4" y2="208.4" stroke="#D23438" stroke-width="3.3"/>
<text x="880.3" y="214.0" font-size="25" text-anchor="start" font-weight="normal">CA1 + CB6</text>
<line x1="821.5" y1="245.0" x2="859.4" y2="245.0" stroke="#3C3ACF" stroke-width="3.3"/>
<text x="880.3" y="249.9" font-size="25" text-anchor="start" font-weight="normal">CB6 + CA1</text>
<line x1="1901" y1="170.6" x2="1938.5" y2="170.6" stroke="#444444" stroke-width="3.3"/>
<text x="1951.0" y="178.75" font-size="25" text-anchor="start" font-weight="normal">buffer+ACE2</text>
<line x1="1901" y1="213.8" x2="1938.5" y2="213.8" stroke="#1AE220" stroke-width="3.3"/>
<text x="1951.0" y="216.5" font-size="25" text-anchor="start" font-weight="normal">CA1 + ACE2</text>
<line x1="1901" y1="253.9" x2="1938.5" y2="253.9" stroke="#7C0309" stroke-width="3.3"/>
<text x="1951.0" y="253.4" font-size="25" text-anchor="start" font-weight="normal">CB6 + ACE2</text>
</g>
</svg>
</body></html>
